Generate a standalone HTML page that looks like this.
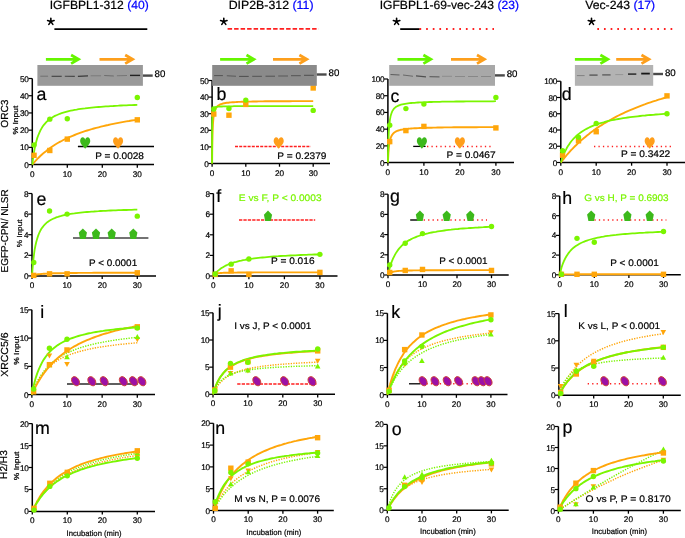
<!DOCTYPE html>
<html><head><meta charset="utf-8"><style>
html,body{margin:0;padding:0;background:#fff;width:685px;height:538px;overflow:hidden}
svg{display:block;font-family:"Liberation Sans", sans-serif;will-change:transform}
</style></head><body>
<svg width="685" height="538" viewBox="0 0 685 538" text-rendering="geometricPrecision" font-family='"Liberation Sans", sans-serif'>
<rect width="685" height="538" fill="#fff"/>
<text x="49.70" y="9.0" font-size="11.9" textLength="99.00" lengthAdjust="spacingAndGlyphs" fill="#000" stroke="#000" stroke-width="0.2">IGFBPL1-312 <tspan fill="#0000ff" stroke="#0000ff">(40)</tspan></text>
<text x="228.70" y="9.0" font-size="11.9" textLength="84.80" lengthAdjust="spacingAndGlyphs" fill="#000" stroke="#000" stroke-width="0.2">DIP2B-312 <tspan fill="#0000ff" stroke="#0000ff">(11)</tspan></text>
<text x="379.70" y="9.0" font-size="11.9" textLength="139.30" lengthAdjust="spacingAndGlyphs" fill="#000" stroke="#000" stroke-width="0.2">IGFBPL1-69-vec-243 <tspan fill="#0000ff" stroke="#0000ff">(23)</tspan></text>
<text x="585.20" y="9.0" font-size="11.9" textLength="70.00" lengthAdjust="spacingAndGlyphs" fill="#000" stroke="#000" stroke-width="0.2">Vec-243 <tspan fill="#0000ff" stroke="#0000ff">(17)</tspan></text>
<path d="M50.85,21.60 L50.85,18.20 M50.85,21.60 L54.08,20.55 M50.85,21.60 L52.85,24.35 M50.85,21.60 L48.85,24.35 M50.85,21.60 L47.62,20.55 " stroke="#000" stroke-width="1.6" stroke-linecap="round" fill="none"/>
<circle cx="50.85" cy="21.60" r="1.3" fill="#000"/>
<path d="M223.80,21.60 L223.80,18.20 M223.80,21.60 L227.03,20.55 M223.80,21.60 L225.80,24.35 M223.80,21.60 L221.80,24.35 M223.80,21.60 L220.57,20.55 " stroke="#000" stroke-width="1.6" stroke-linecap="round" fill="none"/>
<circle cx="223.80" cy="21.60" r="1.3" fill="#000"/>
<path d="M396.60,21.60 L396.60,18.20 M396.60,21.60 L399.83,20.55 M396.60,21.60 L398.60,24.35 M396.60,21.60 L394.60,24.35 M396.60,21.60 L393.37,20.55 " stroke="#000" stroke-width="1.6" stroke-linecap="round" fill="none"/>
<circle cx="396.60" cy="21.60" r="1.3" fill="#000"/>
<path d="M591.50,21.60 L591.50,18.20 M591.50,21.60 L594.73,20.55 M591.50,21.60 L593.50,24.35 M591.50,21.60 L589.50,24.35 M591.50,21.60 L588.27,20.55 " stroke="#000" stroke-width="1.6" stroke-linecap="round" fill="none"/>
<circle cx="591.50" cy="21.60" r="1.3" fill="#000"/>
<line x1="54.40" y1="29.20" x2="147.30" y2="29.20" stroke="#000" stroke-width="1.8" />
<line x1="227.60" y1="28.90" x2="318.70" y2="28.90" stroke="#ff2020" stroke-width="1.75" stroke-dasharray="4.5 2.0"/>
<line x1="400.20" y1="29.10" x2="419.70" y2="29.10" stroke="#000" stroke-width="1.8" />
<line x1="419.50" y1="29.00" x2="494.00" y2="29.00" stroke="#ff2020" stroke-width="1.8" stroke-dasharray="1.7 4.93"/>
<line x1="597.30" y1="29.00" x2="673.00" y2="29.00" stroke="#ff2020" stroke-width="1.8" stroke-dasharray="1.7 4.96"/>
<path d="M45.90,59.30 L78.60,59.30 M71.10,55.00 L78.50,59.30 L71.10,63.60" fill="none" stroke="#66f500" stroke-width="2.8" stroke-linejoin="miter" stroke-miterlimit="10"/>
<path d="M99.50,59.30 L132.70,59.30 M125.20,55.00 L132.60,59.30 L125.20,63.60" fill="none" stroke="#fd9f1c" stroke-width="2.8" stroke-linejoin="miter" stroke-miterlimit="10"/>
<path d="M220.10,59.30 L254.00,59.30 M246.50,55.00 L253.90,59.30 L246.50,63.60" fill="none" stroke="#66f500" stroke-width="2.8" stroke-linejoin="miter" stroke-miterlimit="10"/>
<path d="M273.00,59.30 L306.90,59.30 M299.40,55.00 L306.80,59.30 L299.40,63.60" fill="none" stroke="#fd9f1c" stroke-width="2.8" stroke-linejoin="miter" stroke-miterlimit="10"/>
<path d="M397.50,59.30 L430.90,59.30 M423.40,55.00 L430.80,59.30 L423.40,63.60" fill="none" stroke="#66f500" stroke-width="2.8" stroke-linejoin="miter" stroke-miterlimit="10"/>
<path d="M451.00,59.30 L484.50,59.30 M477.00,55.00 L484.40,59.30 L477.00,63.60" fill="none" stroke="#fd9f1c" stroke-width="2.8" stroke-linejoin="miter" stroke-miterlimit="10"/>
<path d="M574.90,59.30 L607.90,59.30 M600.40,55.00 L607.80,59.30 L600.40,63.60" fill="none" stroke="#66f500" stroke-width="2.8" stroke-linejoin="miter" stroke-miterlimit="10"/>
<path d="M616.20,59.30 L649.00,59.30 M641.50,55.00 L648.90,59.30 L641.50,63.60" fill="none" stroke="#fd9f1c" stroke-width="2.8" stroke-linejoin="miter" stroke-miterlimit="10"/>
<path d="M32.30,78.50 L32.30,164.60 L154.00,164.60" fill="none" stroke="#000" stroke-width="1.5"/>
<line x1="28.50" y1="164.60" x2="32.30" y2="164.60" stroke="#000" stroke-width="1.2" />
<text x="28.60" y="167.60" font-size="8.2" text-anchor="end" fill="#000" stroke="#000" stroke-width="0.2" letter-spacing="-0.3">0</text>
<line x1="28.50" y1="147.38" x2="32.30" y2="147.38" stroke="#000" stroke-width="1.2" />
<text x="28.60" y="150.38" font-size="8.2" text-anchor="end" fill="#000" stroke="#000" stroke-width="0.2" letter-spacing="-0.3">10</text>
<line x1="28.50" y1="130.16" x2="32.30" y2="130.16" stroke="#000" stroke-width="1.2" />
<text x="28.60" y="133.16" font-size="8.2" text-anchor="end" fill="#000" stroke="#000" stroke-width="0.2" letter-spacing="-0.3">20</text>
<line x1="28.50" y1="112.94" x2="32.30" y2="112.94" stroke="#000" stroke-width="1.2" />
<text x="28.60" y="115.94" font-size="8.2" text-anchor="end" fill="#000" stroke="#000" stroke-width="0.2" letter-spacing="-0.3">30</text>
<line x1="28.50" y1="95.72" x2="32.30" y2="95.72" stroke="#000" stroke-width="1.2" />
<text x="28.60" y="98.72" font-size="8.2" text-anchor="end" fill="#000" stroke="#000" stroke-width="0.2" letter-spacing="-0.3">40</text>
<line x1="28.50" y1="78.50" x2="32.30" y2="78.50" stroke="#000" stroke-width="1.2" />
<text x="28.60" y="81.50" font-size="8.2" text-anchor="end" fill="#000" stroke="#000" stroke-width="0.2" letter-spacing="-0.3">50</text>
<line x1="32.30" y1="164.60" x2="32.30" y2="167.80" stroke="#000" stroke-width="1.3" />
<text x="32.30" y="176.60" font-size="8.2" text-anchor="middle" fill="#000" stroke="#000" stroke-width="0.2" >0</text>
<line x1="67.30" y1="164.60" x2="67.30" y2="167.80" stroke="#000" stroke-width="1.3" />
<text x="67.30" y="176.60" font-size="8.2" text-anchor="middle" fill="#000" stroke="#000" stroke-width="0.2" >10</text>
<line x1="102.30" y1="164.60" x2="102.30" y2="167.80" stroke="#000" stroke-width="1.3" />
<text x="102.30" y="176.60" font-size="8.2" text-anchor="middle" fill="#000" stroke="#000" stroke-width="0.2" >20</text>
<line x1="137.30" y1="164.60" x2="137.30" y2="167.80" stroke="#000" stroke-width="1.3" />
<text x="137.30" y="176.60" font-size="8.2" text-anchor="middle" fill="#000" stroke="#000" stroke-width="0.2" >30</text>
<text x="36.40" y="100.25" font-size="17.8" text-anchor="start" fill="#000" stroke="#000" stroke-width="0.2" >a</text>
<path d="M32.3,164.6 L32.5,164.4 L32.8,164.0 L33.2,163.5 L33.7,162.9 L34.3,162.3 L34.9,161.5 L35.7,160.7 L36.5,159.8 L37.3,158.9 L38.3,158.0 L39.3,157.0 L40.3,156.0 L41.4,155.0 L42.5,154.0 L43.7,152.9 L45.0,151.9 L46.3,150.9 L47.6,149.8 L49.0,148.8 L50.4,147.8 L51.9,146.8 L53.4,145.8 L54.9,144.8 L56.5,143.8 L58.2,142.8 L59.8,141.9 L61.6,141.0 L63.3,140.0 L65.1,139.2 L66.9,138.3 L68.8,137.4 L70.7,136.6 L72.6,135.8 L74.6,135.0 L76.6,134.2 L78.7,133.4 L80.7,132.7 L82.9,131.9 L85.0,131.2 L87.2,130.5 L89.4,129.8 L91.6,129.2 L93.9,128.5 L96.2,127.9 L98.6,127.3 L100.9,126.7 L103.3,126.1 L105.8,125.5 L108.2,125.0 L110.7,124.4 L113.3,123.9 L115.8,123.4 L118.4,122.9 L121.0,122.4 L123.7,121.9 L126.3,121.4 L129.0,121.0 L131.8,120.5 L134.5,120.1 L137.3,119.7" fill="none" stroke="#ffa60a" stroke-width="1.9" />
<path d="M32.3,164.6 L32.5,163.3 L32.8,160.7 L33.2,157.6 L33.7,154.1 L34.3,150.6 L34.9,147.2 L35.7,143.9 L36.5,140.8 L37.3,137.9 L38.3,135.3 L39.3,132.8 L40.3,130.6 L41.4,128.6 L42.5,126.8 L43.7,125.1 L45.0,123.6 L46.3,122.2 L47.6,120.9 L49.0,119.7 L50.4,118.7 L51.9,117.7 L53.4,116.8 L54.9,115.9 L56.5,115.2 L58.2,114.5 L59.8,113.8 L61.6,113.2 L63.3,112.6 L65.1,112.1 L66.9,111.6 L68.8,111.1 L70.7,110.7 L72.6,110.3 L74.6,109.9 L76.6,109.6 L78.7,109.2 L80.7,108.9 L82.9,108.6 L85.0,108.4 L87.2,108.1 L89.4,107.8 L91.6,107.6 L93.9,107.4 L96.2,107.2 L98.6,107.0 L100.9,106.8 L103.3,106.6 L105.8,106.4 L108.2,106.3 L110.7,106.1 L113.3,106.0 L115.8,105.8 L118.4,105.7 L121.0,105.5 L123.7,105.4 L126.3,105.3 L129.0,105.2 L131.8,105.1 L134.5,105.0 L137.3,104.9" fill="none" stroke="#7af500" stroke-width="1.8" />
<rect x="31.35" y="152.60" width="5.4" height="5.4" fill="#ffa60a"/>
<rect x="47.10" y="147.78" width="5.4" height="5.4" fill="#ffa60a"/>
<rect x="64.60" y="136.41" width="5.4" height="5.4" fill="#ffa60a"/>
<rect x="134.60" y="117.13" width="5.4" height="5.4" fill="#ffa60a"/>
<circle cx="34.05" cy="144.97" r="2.7" fill="#7af500"/>
<circle cx="49.80" cy="119.14" r="2.7" fill="#7af500"/>
<circle cx="67.30" cy="118.79" r="2.7" fill="#7af500"/>
<circle cx="137.30" cy="97.44" r="2.7" fill="#7af500"/>
<path d="M212.10,80.50 L212.10,163.50 L330.00,163.50" fill="none" stroke="#000" stroke-width="1.5"/>
<line x1="208.30" y1="163.50" x2="212.10" y2="163.50" stroke="#000" stroke-width="1.2" />
<text x="208.40" y="166.50" font-size="8.2" text-anchor="end" fill="#000" stroke="#000" stroke-width="0.2" letter-spacing="-0.3">0</text>
<line x1="208.30" y1="146.90" x2="212.10" y2="146.90" stroke="#000" stroke-width="1.2" />
<text x="208.40" y="149.90" font-size="8.2" text-anchor="end" fill="#000" stroke="#000" stroke-width="0.2" letter-spacing="-0.3">10</text>
<line x1="208.30" y1="130.30" x2="212.10" y2="130.30" stroke="#000" stroke-width="1.2" />
<text x="208.40" y="133.30" font-size="8.2" text-anchor="end" fill="#000" stroke="#000" stroke-width="0.2" letter-spacing="-0.3">20</text>
<line x1="208.30" y1="113.70" x2="212.10" y2="113.70" stroke="#000" stroke-width="1.2" />
<text x="208.40" y="116.70" font-size="8.2" text-anchor="end" fill="#000" stroke="#000" stroke-width="0.2" letter-spacing="-0.3">30</text>
<line x1="208.30" y1="97.10" x2="212.10" y2="97.10" stroke="#000" stroke-width="1.2" />
<text x="208.40" y="100.10" font-size="8.2" text-anchor="end" fill="#000" stroke="#000" stroke-width="0.2" letter-spacing="-0.3">40</text>
<line x1="208.30" y1="80.50" x2="212.10" y2="80.50" stroke="#000" stroke-width="1.2" />
<text x="208.40" y="83.50" font-size="8.2" text-anchor="end" fill="#000" stroke="#000" stroke-width="0.2" letter-spacing="-0.3">50</text>
<line x1="212.10" y1="163.50" x2="212.10" y2="166.70" stroke="#000" stroke-width="1.3" />
<text x="212.10" y="175.50" font-size="8.2" text-anchor="middle" fill="#000" stroke="#000" stroke-width="0.2" >0</text>
<line x1="245.80" y1="163.50" x2="245.80" y2="166.70" stroke="#000" stroke-width="1.3" />
<text x="245.80" y="175.50" font-size="8.2" text-anchor="middle" fill="#000" stroke="#000" stroke-width="0.2" >10</text>
<line x1="279.50" y1="163.50" x2="279.50" y2="166.70" stroke="#000" stroke-width="1.3" />
<text x="279.50" y="175.50" font-size="8.2" text-anchor="middle" fill="#000" stroke="#000" stroke-width="0.2" >20</text>
<line x1="313.20" y1="163.50" x2="313.20" y2="166.70" stroke="#000" stroke-width="1.3" />
<text x="313.20" y="175.50" font-size="8.2" text-anchor="middle" fill="#000" stroke="#000" stroke-width="0.2" >30</text>
<text x="216.45" y="99.50" font-size="17.8" text-anchor="start" fill="#000" stroke="#000" stroke-width="0.2" >b</text>
<path d="M212.1,163.5 L212.2,149.6 L212.5,134.4 L212.9,124.4 L213.4,118.1 L214.0,114.0 L214.6,111.2 L215.3,109.2 L216.1,107.8 L217.0,106.7 L217.9,105.8 L218.8,105.2 L219.8,104.6 L220.9,104.2 L222.0,103.8 L223.1,103.5 L224.3,103.2 L225.5,103.0 L226.8,102.8 L228.2,102.7 L229.5,102.5 L230.9,102.4 L232.4,102.3 L233.9,102.2 L235.4,102.1 L237.0,102.0 L238.6,101.9 L240.3,101.9 L242.0,101.8 L243.7,101.7 L245.5,101.7 L247.2,101.6 L249.1,101.6 L250.9,101.6 L252.8,101.5 L254.8,101.5 L256.7,101.5 L258.7,101.4 L260.8,101.4 L262.8,101.4 L264.9,101.3 L267.1,101.3 L269.2,101.3 L271.4,101.3 L273.7,101.3 L275.9,101.2 L278.2,101.2 L280.5,101.2 L282.8,101.2 L285.2,101.2 L287.6,101.2 L290.1,101.2 L292.5,101.1 L295.0,101.1 L297.5,101.1 L300.1,101.1 L302.6,101.1 L305.2,101.1 L307.9,101.1 L310.5,101.1 L313.2,101.1" fill="none" stroke="#ffa60a" stroke-width="1.9" />
<path d="M212.1,163.5 L212.2,124.3 L212.5,113.7 L212.9,110.3 L213.4,108.8 L214.0,108.0 L214.6,107.5 L215.3,107.2 L216.1,107.0 L217.0,106.8 L217.9,106.7 L218.8,106.6 L219.8,106.6 L220.9,106.5 L222.0,106.5 L223.1,106.4 L224.3,106.4 L225.5,106.4 L226.8,106.3 L228.2,106.3 L229.5,106.3 L230.9,106.3 L232.4,106.3 L233.9,106.2 L235.4,106.2 L237.0,106.2 L238.6,106.2 L240.3,106.2 L242.0,106.2 L243.7,106.2 L245.5,106.2 L247.2,106.2 L249.1,106.2 L250.9,106.2 L252.8,106.2 L254.8,106.2 L256.7,106.2 L258.7,106.1 L260.8,106.1 L262.8,106.1 L264.9,106.1 L267.1,106.1 L269.2,106.1 L271.4,106.1 L273.7,106.1 L275.9,106.1 L278.2,106.1 L280.5,106.1 L282.8,106.1 L285.2,106.1 L287.6,106.1 L290.1,106.1 L292.5,106.1 L295.0,106.1 L297.5,106.1 L300.1,106.1 L302.6,106.1 L305.2,106.1 L307.9,106.1 L310.5,106.1 L313.2,106.1" fill="none" stroke="#7af500" stroke-width="1.8" />
<rect x="211.09" y="111.33" width="5.4" height="5.4" fill="#ffa60a"/>
<rect x="226.25" y="112.49" width="5.4" height="5.4" fill="#ffa60a"/>
<rect x="243.10" y="101.70" width="5.4" height="5.4" fill="#ffa60a"/>
<rect x="310.50" y="85.27" width="5.4" height="5.4" fill="#ffa60a"/>
<circle cx="213.78" cy="109.05" r="2.7" fill="#7af500"/>
<circle cx="228.95" cy="108.55" r="2.7" fill="#7af500"/>
<circle cx="245.80" cy="100.09" r="2.7" fill="#7af500"/>
<circle cx="313.20" cy="110.38" r="2.7" fill="#7af500"/>
<path d="M387.90,79.00 L387.90,162.60 L514.00,162.60" fill="none" stroke="#000" stroke-width="1.5"/>
<line x1="384.10" y1="162.60" x2="387.90" y2="162.60" stroke="#000" stroke-width="1.2" />
<text x="384.20" y="165.60" font-size="8.2" text-anchor="end" fill="#000" stroke="#000" stroke-width="0.2" letter-spacing="-0.3">0</text>
<line x1="384.10" y1="145.88" x2="387.90" y2="145.88" stroke="#000" stroke-width="1.2" />
<text x="384.20" y="148.88" font-size="8.2" text-anchor="end" fill="#000" stroke="#000" stroke-width="0.2" letter-spacing="-0.3">20</text>
<line x1="384.10" y1="129.16" x2="387.90" y2="129.16" stroke="#000" stroke-width="1.2" />
<text x="384.20" y="132.16" font-size="8.2" text-anchor="end" fill="#000" stroke="#000" stroke-width="0.2" letter-spacing="-0.3">40</text>
<line x1="384.10" y1="112.44" x2="387.90" y2="112.44" stroke="#000" stroke-width="1.2" />
<text x="384.20" y="115.44" font-size="8.2" text-anchor="end" fill="#000" stroke="#000" stroke-width="0.2" letter-spacing="-0.3">60</text>
<line x1="384.10" y1="95.72" x2="387.90" y2="95.72" stroke="#000" stroke-width="1.2" />
<text x="384.20" y="98.72" font-size="8.2" text-anchor="end" fill="#000" stroke="#000" stroke-width="0.2" letter-spacing="-0.3">80</text>
<line x1="384.10" y1="79.00" x2="387.90" y2="79.00" stroke="#000" stroke-width="1.2" />
<text x="384.20" y="82.00" font-size="8.2" text-anchor="end" fill="#000" stroke="#000" stroke-width="0.2" letter-spacing="-0.3">100</text>
<line x1="387.90" y1="162.60" x2="387.90" y2="165.80" stroke="#000" stroke-width="1.3" />
<text x="387.90" y="174.60" font-size="8.2" text-anchor="middle" fill="#000" stroke="#000" stroke-width="0.2" >0</text>
<line x1="423.90" y1="162.60" x2="423.90" y2="165.80" stroke="#000" stroke-width="1.3" />
<text x="423.90" y="174.60" font-size="8.2" text-anchor="middle" fill="#000" stroke="#000" stroke-width="0.2" >10</text>
<line x1="459.90" y1="162.60" x2="459.90" y2="165.80" stroke="#000" stroke-width="1.3" />
<text x="459.90" y="174.60" font-size="8.2" text-anchor="middle" fill="#000" stroke="#000" stroke-width="0.2" >20</text>
<line x1="495.90" y1="162.60" x2="495.90" y2="165.80" stroke="#000" stroke-width="1.3" />
<text x="495.90" y="174.60" font-size="8.2" text-anchor="middle" fill="#000" stroke="#000" stroke-width="0.2" >30</text>
<text x="390.55" y="101.80" font-size="17.8" text-anchor="start" fill="#000" stroke="#000" stroke-width="0.2" >c</text>
<path d="M387.9,162.6 L388.1,158.7 L388.4,152.9 L388.8,147.7 L389.3,143.6 L389.9,140.4 L390.6,138.1 L391.4,136.2 L392.2,134.8 L393.1,133.7 L394.0,132.8 L395.1,132.0 L396.1,131.4 L397.2,130.9 L398.4,130.5 L399.7,130.1 L400.9,129.8 L402.3,129.6 L403.6,129.3 L405.1,129.1 L406.5,128.9 L408.0,128.8 L409.6,128.6 L411.2,128.5 L412.8,128.4 L414.5,128.3 L416.2,128.2 L418.0,128.1 L419.8,128.0 L421.6,127.9 L423.5,127.9 L425.4,127.8 L427.4,127.8 L429.4,127.7 L431.4,127.7 L433.5,127.6 L435.6,127.6 L437.7,127.5 L439.9,127.5 L442.1,127.5 L444.4,127.4 L446.6,127.4 L448.9,127.4 L451.3,127.4 L453.7,127.3 L456.1,127.3 L458.5,127.3 L461.0,127.3 L463.5,127.2 L466.0,127.2 L468.6,127.2 L471.2,127.2 L473.8,127.2 L476.5,127.2 L479.1,127.1 L481.9,127.1 L484.6,127.1 L487.4,127.1 L490.2,127.1 L493.0,127.1 L495.9,127.1" fill="none" stroke="#ffa60a" stroke-width="1.9" />
<path d="M387.9,162.6 L388.1,153.5 L388.4,141.4 L388.8,131.8 L389.3,124.8 L389.9,119.8 L390.6,116.1 L391.4,113.5 L392.2,111.4 L393.1,109.9 L394.0,108.6 L395.1,107.6 L396.1,106.8 L397.2,106.2 L398.4,105.6 L399.7,105.1 L400.9,104.7 L402.3,104.4 L403.6,104.1 L405.1,103.8 L406.5,103.6 L408.0,103.4 L409.6,103.2 L411.2,103.0 L412.8,102.9 L414.5,102.8 L416.2,102.6 L418.0,102.5 L419.8,102.4 L421.6,102.3 L423.5,102.3 L425.4,102.2 L427.4,102.1 L429.4,102.0 L431.4,102.0 L433.5,101.9 L435.6,101.9 L437.7,101.8 L439.9,101.8 L442.1,101.7 L444.4,101.7 L446.6,101.7 L448.9,101.6 L451.3,101.6 L453.7,101.6 L456.1,101.5 L458.5,101.5 L461.0,101.5 L463.5,101.5 L466.0,101.4 L468.6,101.4 L471.2,101.4 L473.8,101.4 L476.5,101.4 L479.1,101.3 L481.9,101.3 L484.6,101.3 L487.4,101.3 L490.2,101.3 L493.0,101.3 L495.9,101.2" fill="none" stroke="#7af500" stroke-width="1.8" />
<rect x="387.00" y="138.92" width="5.4" height="5.4" fill="#ffa60a"/>
<rect x="403.20" y="127.88" width="5.4" height="5.4" fill="#ffa60a"/>
<rect x="421.20" y="123.70" width="5.4" height="5.4" fill="#ffa60a"/>
<rect x="493.20" y="125.21" width="5.4" height="5.4" fill="#ffa60a"/>
<circle cx="389.70" cy="125.23" r="2.7" fill="#7af500"/>
<circle cx="405.90" cy="108.59" r="2.7" fill="#7af500"/>
<circle cx="423.90" cy="104.08" r="2.7" fill="#7af500"/>
<circle cx="495.90" cy="97.39" r="2.7" fill="#7af500"/>
<path d="M560.80,81.25 L560.80,162.50 L685.00,162.50" fill="none" stroke="#000" stroke-width="1.5"/>
<line x1="557.00" y1="162.50" x2="560.80" y2="162.50" stroke="#000" stroke-width="1.2" />
<text x="557.10" y="165.50" font-size="8.2" text-anchor="end" fill="#000" stroke="#000" stroke-width="0.2" letter-spacing="-0.3">0</text>
<line x1="557.00" y1="146.25" x2="560.80" y2="146.25" stroke="#000" stroke-width="1.2" />
<text x="557.10" y="149.25" font-size="8.2" text-anchor="end" fill="#000" stroke="#000" stroke-width="0.2" letter-spacing="-0.3">20</text>
<line x1="557.00" y1="130.00" x2="560.80" y2="130.00" stroke="#000" stroke-width="1.2" />
<text x="557.10" y="133.00" font-size="8.2" text-anchor="end" fill="#000" stroke="#000" stroke-width="0.2" letter-spacing="-0.3">40</text>
<line x1="557.00" y1="113.75" x2="560.80" y2="113.75" stroke="#000" stroke-width="1.2" />
<text x="557.10" y="116.75" font-size="8.2" text-anchor="end" fill="#000" stroke="#000" stroke-width="0.2" letter-spacing="-0.3">60</text>
<line x1="557.00" y1="97.50" x2="560.80" y2="97.50" stroke="#000" stroke-width="1.2" />
<text x="557.10" y="100.50" font-size="8.2" text-anchor="end" fill="#000" stroke="#000" stroke-width="0.2" letter-spacing="-0.3">80</text>
<line x1="557.00" y1="81.25" x2="560.80" y2="81.25" stroke="#000" stroke-width="1.2" />
<text x="557.10" y="84.25" font-size="8.2" text-anchor="end" fill="#000" stroke="#000" stroke-width="0.2" letter-spacing="-0.3">100</text>
<line x1="560.80" y1="162.50" x2="560.80" y2="165.70" stroke="#000" stroke-width="1.3" />
<text x="560.80" y="174.50" font-size="8.2" text-anchor="middle" fill="#000" stroke="#000" stroke-width="0.2" >0</text>
<line x1="596.20" y1="162.50" x2="596.20" y2="165.70" stroke="#000" stroke-width="1.3" />
<text x="596.20" y="174.50" font-size="8.2" text-anchor="middle" fill="#000" stroke="#000" stroke-width="0.2" >10</text>
<line x1="631.60" y1="162.50" x2="631.60" y2="165.70" stroke="#000" stroke-width="1.3" />
<text x="631.60" y="174.50" font-size="8.2" text-anchor="middle" fill="#000" stroke="#000" stroke-width="0.2" >20</text>
<line x1="667.00" y1="162.50" x2="667.00" y2="165.70" stroke="#000" stroke-width="1.3" />
<text x="667.00" y="174.50" font-size="8.2" text-anchor="middle" fill="#000" stroke="#000" stroke-width="0.2" >30</text>
<text x="561.80" y="99.50" font-size="17.8" text-anchor="start" fill="#000" stroke="#000" stroke-width="0.2" >d</text>
<path d="M560.8,162.5 L561.0,162.3 L561.3,161.9 L561.7,161.3 L562.2,160.7 L562.8,159.9 L563.5,159.1 L564.2,158.1 L565.0,157.1 L565.9,156.1 L566.8,155.0 L567.8,153.8 L568.9,152.7 L570.0,151.4 L571.1,150.2 L572.4,148.9 L573.6,147.6 L574.9,146.3 L576.3,145.0 L577.7,143.6 L579.1,142.3 L580.6,140.9 L582.1,139.6 L583.7,138.2 L585.3,136.9 L587.0,135.5 L588.7,134.2 L590.4,132.8 L592.2,131.5 L594.0,130.2 L595.8,128.9 L597.7,127.6 L599.6,126.3 L601.6,125.1 L603.6,123.8 L605.6,122.6 L607.7,121.4 L609.8,120.2 L611.9,119.0 L614.1,117.8 L616.3,116.6 L618.5,115.5 L620.8,114.4 L623.1,113.3 L625.5,112.2 L627.8,111.1 L630.2,110.1 L632.7,109.1 L635.1,108.1 L637.6,107.1 L640.1,106.1 L642.7,105.1 L645.3,104.2 L647.9,103.2 L650.5,102.3 L653.2,101.4 L655.9,100.6 L658.6,99.7 L661.4,98.9 L664.2,98.0 L667.0,97.2" fill="none" stroke="#ffa60a" stroke-width="1.9" />
<path d="M560.8,162.5 L561.0,162.0 L561.3,161.1 L561.7,159.8 L562.2,158.3 L562.8,156.7 L563.5,155.1 L564.2,153.3 L565.0,151.5 L565.9,149.8 L566.8,148.0 L567.8,146.3 L568.9,144.7 L570.0,143.1 L571.1,141.5 L572.4,140.0 L573.6,138.6 L574.9,137.3 L576.3,136.0 L577.7,134.7 L579.1,133.6 L580.6,132.5 L582.1,131.4 L583.7,130.4 L585.3,129.5 L587.0,128.6 L588.7,127.7 L590.4,126.9 L592.2,126.1 L594.0,125.4 L595.8,124.7 L597.7,124.1 L599.6,123.4 L601.6,122.8 L603.6,122.3 L605.6,121.7 L607.7,121.2 L609.8,120.7 L611.9,120.2 L614.1,119.8 L616.3,119.4 L618.5,119.0 L620.8,118.6 L623.1,118.2 L625.5,117.8 L627.8,117.5 L630.2,117.2 L632.7,116.9 L635.1,116.6 L637.6,116.3 L640.1,116.0 L642.7,115.7 L645.3,115.5 L647.9,115.2 L650.5,115.0 L653.2,114.8 L655.9,114.5 L658.6,114.3 L661.4,114.1 L664.2,113.9 L667.0,113.8" fill="none" stroke="#7af500" stroke-width="1.8" />
<rect x="559.87" y="152.49" width="5.4" height="5.4" fill="#ffa60a"/>
<rect x="575.80" y="138.11" width="5.4" height="5.4" fill="#ffa60a"/>
<rect x="593.50" y="129.01" width="5.4" height="5.4" fill="#ffa60a"/>
<rect x="664.30" y="93.17" width="5.4" height="5.4" fill="#ffa60a"/>
<circle cx="562.57" cy="150.72" r="2.7" fill="#7af500"/>
<circle cx="578.50" cy="137.15" r="2.7" fill="#7af500"/>
<circle cx="596.20" cy="123.50" r="2.7" fill="#7af500"/>
<circle cx="667.00" cy="113.75" r="2.7" fill="#7af500"/>
<path d="M32.00,193.50 L32.00,275.90 L156.00,275.90" fill="none" stroke="#000" stroke-width="1.5"/>
<line x1="28.20" y1="275.90" x2="32.00" y2="275.90" stroke="#000" stroke-width="1.2" />
<text x="28.30" y="278.90" font-size="8.2" text-anchor="end" fill="#000" stroke="#000" stroke-width="0.2" letter-spacing="-0.3">0</text>
<line x1="28.20" y1="255.30" x2="32.00" y2="255.30" stroke="#000" stroke-width="1.2" />
<text x="28.30" y="258.30" font-size="8.2" text-anchor="end" fill="#000" stroke="#000" stroke-width="0.2" letter-spacing="-0.3">2</text>
<line x1="28.20" y1="234.70" x2="32.00" y2="234.70" stroke="#000" stroke-width="1.2" />
<text x="28.30" y="237.70" font-size="8.2" text-anchor="end" fill="#000" stroke="#000" stroke-width="0.2" letter-spacing="-0.3">4</text>
<line x1="28.20" y1="214.10" x2="32.00" y2="214.10" stroke="#000" stroke-width="1.2" />
<text x="28.30" y="217.10" font-size="8.2" text-anchor="end" fill="#000" stroke="#000" stroke-width="0.2" letter-spacing="-0.3">6</text>
<line x1="28.20" y1="193.50" x2="32.00" y2="193.50" stroke="#000" stroke-width="1.2" />
<text x="28.30" y="196.50" font-size="8.2" text-anchor="end" fill="#000" stroke="#000" stroke-width="0.2" letter-spacing="-0.3">8</text>
<line x1="32.00" y1="275.90" x2="32.00" y2="279.10" stroke="#000" stroke-width="1.3" />
<text x="32.00" y="287.90" font-size="8.2" text-anchor="middle" fill="#000" stroke="#000" stroke-width="0.2" >0</text>
<line x1="67.10" y1="275.90" x2="67.10" y2="279.10" stroke="#000" stroke-width="1.3" />
<text x="67.10" y="287.90" font-size="8.2" text-anchor="middle" fill="#000" stroke="#000" stroke-width="0.2" >10</text>
<line x1="102.20" y1="275.90" x2="102.20" y2="279.10" stroke="#000" stroke-width="1.3" />
<text x="102.20" y="287.90" font-size="8.2" text-anchor="middle" fill="#000" stroke="#000" stroke-width="0.2" >20</text>
<line x1="137.30" y1="275.90" x2="137.30" y2="279.10" stroke="#000" stroke-width="1.3" />
<text x="137.30" y="287.90" font-size="8.2" text-anchor="middle" fill="#000" stroke="#000" stroke-width="0.2" >30</text>
<text x="36.50" y="204.50" font-size="17.8" text-anchor="start" fill="#000" stroke="#000" stroke-width="0.2" >e</text>
<path d="M32.0,275.9 L32.2,275.8 L32.5,275.7 L32.9,275.5 L33.4,275.3 L34.0,275.2 L34.6,275.0 L35.4,274.8 L36.2,274.6 L37.1,274.5 L38.0,274.3 L39.0,274.2 L40.0,274.1 L41.1,274.0 L42.3,273.9 L43.5,273.8 L44.7,273.7 L46.0,273.6 L47.3,273.6 L48.7,273.5 L50.2,273.4 L51.6,273.4 L53.1,273.3 L54.7,273.3 L56.3,273.3 L57.9,273.2 L59.6,273.2 L61.3,273.2 L63.1,273.1 L64.9,273.1 L66.7,273.1 L68.6,273.0 L70.5,273.0 L72.5,273.0 L74.4,273.0 L76.5,273.0 L78.5,272.9 L80.6,272.9 L82.7,272.9 L84.9,272.9 L87.0,272.9 L89.3,272.9 L91.5,272.9 L93.8,272.8 L96.1,272.8 L98.5,272.8 L100.8,272.8 L103.2,272.8 L105.7,272.8 L108.2,272.8 L110.7,272.8 L113.2,272.8 L115.8,272.8 L118.3,272.8 L121.0,272.7 L123.6,272.7 L126.3,272.7 L129.0,272.7 L131.7,272.7 L134.5,272.7 L137.3,272.7" fill="none" stroke="#ffa60a" stroke-width="1.9" />
<path d="M32.0,275.9 L32.2,273.6 L32.5,269.4 L32.9,264.5 L33.4,259.4 L34.0,254.5 L34.6,249.9 L35.4,245.8 L36.2,242.2 L37.1,238.9 L38.0,236.1 L39.0,233.5 L40.0,231.3 L41.1,229.3 L42.3,227.6 L43.5,226.0 L44.7,224.6 L46.0,223.4 L47.3,222.2 L48.7,221.2 L50.2,220.3 L51.6,219.5 L53.1,218.7 L54.7,218.1 L56.3,217.4 L57.9,216.9 L59.6,216.3 L61.3,215.9 L63.1,215.4 L64.9,215.0 L66.7,214.6 L68.6,214.3 L70.5,213.9 L72.5,213.6 L74.4,213.4 L76.5,213.1 L78.5,212.8 L80.6,212.6 L82.7,212.4 L84.9,212.2 L87.0,212.0 L89.3,211.8 L91.5,211.6 L93.8,211.5 L96.1,211.3 L98.5,211.2 L100.8,211.0 L103.2,210.9 L105.7,210.8 L108.2,210.6 L110.7,210.5 L113.2,210.4 L115.8,210.3 L118.3,210.2 L121.0,210.1 L123.6,210.0 L126.3,210.0 L129.0,209.9 L131.7,209.8 L134.5,209.7 L137.3,209.7" fill="none" stroke="#7af500" stroke-width="1.8" />
<rect x="31.06" y="272.69" width="5.4" height="5.4" fill="#ffa60a"/>
<rect x="46.85" y="271.14" width="5.4" height="5.4" fill="#ffa60a"/>
<rect x="64.40" y="271.14" width="5.4" height="5.4" fill="#ffa60a"/>
<rect x="134.60" y="270.11" width="5.4" height="5.4" fill="#ffa60a"/>
<circle cx="33.76" cy="262.51" r="2.7" fill="#7af500"/>
<circle cx="49.55" cy="211.01" r="2.7" fill="#7af500"/>
<circle cx="67.10" cy="214.10" r="2.7" fill="#7af500"/>
<circle cx="137.30" cy="216.16" r="2.7" fill="#7af500"/>
<path d="M213.40,193.60 L213.40,276.00 L337.50,276.00" fill="none" stroke="#000" stroke-width="1.5"/>
<line x1="209.60" y1="276.00" x2="213.40" y2="276.00" stroke="#000" stroke-width="1.2" />
<text x="209.70" y="279.00" font-size="8.2" text-anchor="end" fill="#000" stroke="#000" stroke-width="0.2" letter-spacing="-0.3">0</text>
<line x1="209.60" y1="255.40" x2="213.40" y2="255.40" stroke="#000" stroke-width="1.2" />
<text x="209.70" y="258.40" font-size="8.2" text-anchor="end" fill="#000" stroke="#000" stroke-width="0.2" letter-spacing="-0.3">2</text>
<line x1="209.60" y1="234.80" x2="213.40" y2="234.80" stroke="#000" stroke-width="1.2" />
<text x="209.70" y="237.80" font-size="8.2" text-anchor="end" fill="#000" stroke="#000" stroke-width="0.2" letter-spacing="-0.3">4</text>
<line x1="209.60" y1="214.20" x2="213.40" y2="214.20" stroke="#000" stroke-width="1.2" />
<text x="209.70" y="217.20" font-size="8.2" text-anchor="end" fill="#000" stroke="#000" stroke-width="0.2" letter-spacing="-0.3">6</text>
<line x1="209.60" y1="193.60" x2="213.40" y2="193.60" stroke="#000" stroke-width="1.2" />
<text x="209.70" y="196.60" font-size="8.2" text-anchor="end" fill="#000" stroke="#000" stroke-width="0.2" letter-spacing="-0.3">8</text>
<line x1="213.40" y1="276.00" x2="213.40" y2="279.20" stroke="#000" stroke-width="1.3" />
<text x="213.40" y="288.00" font-size="8.2" text-anchor="middle" fill="#000" stroke="#000" stroke-width="0.2" >0</text>
<line x1="248.90" y1="276.00" x2="248.90" y2="279.20" stroke="#000" stroke-width="1.3" />
<text x="248.90" y="288.00" font-size="8.2" text-anchor="middle" fill="#000" stroke="#000" stroke-width="0.2" >10</text>
<line x1="284.40" y1="276.00" x2="284.40" y2="279.20" stroke="#000" stroke-width="1.3" />
<text x="284.40" y="288.00" font-size="8.2" text-anchor="middle" fill="#000" stroke="#000" stroke-width="0.2" >20</text>
<line x1="319.90" y1="276.00" x2="319.90" y2="279.20" stroke="#000" stroke-width="1.3" />
<text x="319.90" y="288.00" font-size="8.2" text-anchor="middle" fill="#000" stroke="#000" stroke-width="0.2" >30</text>
<text x="216.35" y="202.25" font-size="17.8" text-anchor="start" fill="#000" stroke="#000" stroke-width="0.2" >f</text>
<path d="M213.4,276.0 L213.6,275.7 L213.9,275.2 L214.3,274.8 L214.8,274.4 L215.4,274.0 L216.1,273.8 L216.8,273.6 L217.6,273.4 L218.5,273.2 L219.5,273.1 L220.5,273.0 L221.5,273.0 L222.6,272.9 L223.8,272.8 L225.0,272.8 L226.2,272.7 L227.6,272.7 L228.9,272.7 L230.3,272.6 L231.8,272.6 L233.3,272.6 L234.8,272.6 L236.4,272.6 L238.0,272.5 L239.6,272.5 L241.3,272.5 L243.1,272.5 L244.9,272.5 L246.7,272.5 L248.5,272.5 L250.4,272.5 L252.4,272.5 L254.3,272.4 L256.3,272.4 L258.4,272.4 L260.4,272.4 L262.5,272.4 L264.7,272.4 L266.9,272.4 L269.1,272.4 L271.3,272.4 L273.6,272.4 L275.9,272.4 L278.2,272.4 L280.6,272.4 L283.0,272.4 L285.5,272.4 L287.9,272.4 L290.4,272.4 L293.0,272.4 L295.5,272.4 L298.1,272.4 L300.7,272.4 L303.4,272.4 L306.1,272.4 L308.8,272.4 L311.5,272.4 L314.3,272.4 L317.1,272.4 L319.9,272.4" fill="none" stroke="#ffa60a" stroke-width="1.9" />
<path d="M213.4,276.0 L213.6,275.8 L213.9,275.4 L214.3,274.8 L214.8,274.2 L215.4,273.4 L216.1,272.7 L216.8,271.9 L217.6,271.1 L218.5,270.4 L219.5,269.6 L220.5,268.8 L221.5,268.1 L222.6,267.4 L223.8,266.7 L225.0,266.0 L226.2,265.4 L227.6,264.8 L228.9,264.2 L230.3,263.7 L231.8,263.2 L233.3,262.7 L234.8,262.2 L236.4,261.8 L238.0,261.3 L239.6,260.9 L241.3,260.6 L243.1,260.2 L244.9,259.9 L246.7,259.5 L248.5,259.2 L250.4,258.9 L252.4,258.7 L254.3,258.4 L256.3,258.1 L258.4,257.9 L260.4,257.7 L262.5,257.5 L264.7,257.3 L266.9,257.1 L269.1,256.9 L271.3,256.7 L273.6,256.5 L275.9,256.3 L278.2,256.2 L280.6,256.0 L283.0,255.9 L285.5,255.8 L287.9,255.6 L290.4,255.5 L293.0,255.4 L295.5,255.3 L298.1,255.1 L300.7,255.0 L303.4,254.9 L306.1,254.8 L308.8,254.7 L311.5,254.6 L314.3,254.5 L317.1,254.5 L319.9,254.4" fill="none" stroke="#7af500" stroke-width="1.8" />
<rect x="212.48" y="271.75" width="5.4" height="5.4" fill="#ffa60a"/>
<rect x="228.45" y="268.15" width="5.4" height="5.4" fill="#ffa60a"/>
<rect x="246.20" y="271.75" width="5.4" height="5.4" fill="#ffa60a"/>
<rect x="317.20" y="269.69" width="5.4" height="5.4" fill="#ffa60a"/>
<circle cx="215.18" cy="273.94" r="2.7" fill="#7af500"/>
<circle cx="231.15" cy="264.15" r="2.7" fill="#7af500"/>
<circle cx="248.90" cy="259.00" r="2.7" fill="#7af500"/>
<circle cx="319.90" cy="254.37" r="2.7" fill="#7af500"/>
<path d="M388.00,194.20 L388.00,275.00 L508.70,275.00" fill="none" stroke="#000" stroke-width="1.5"/>
<line x1="384.20" y1="275.00" x2="388.00" y2="275.00" stroke="#000" stroke-width="1.2" />
<text x="384.30" y="278.00" font-size="8.2" text-anchor="end" fill="#000" stroke="#000" stroke-width="0.2" letter-spacing="-0.3">0</text>
<line x1="384.20" y1="254.80" x2="388.00" y2="254.80" stroke="#000" stroke-width="1.2" />
<text x="384.30" y="257.80" font-size="8.2" text-anchor="end" fill="#000" stroke="#000" stroke-width="0.2" letter-spacing="-0.3">2</text>
<line x1="384.20" y1="234.60" x2="388.00" y2="234.60" stroke="#000" stroke-width="1.2" />
<text x="384.30" y="237.60" font-size="8.2" text-anchor="end" fill="#000" stroke="#000" stroke-width="0.2" letter-spacing="-0.3">4</text>
<line x1="384.20" y1="214.40" x2="388.00" y2="214.40" stroke="#000" stroke-width="1.2" />
<text x="384.30" y="217.40" font-size="8.2" text-anchor="end" fill="#000" stroke="#000" stroke-width="0.2" letter-spacing="-0.3">6</text>
<line x1="384.20" y1="194.20" x2="388.00" y2="194.20" stroke="#000" stroke-width="1.2" />
<text x="384.30" y="197.20" font-size="8.2" text-anchor="end" fill="#000" stroke="#000" stroke-width="0.2" letter-spacing="-0.3">8</text>
<line x1="388.00" y1="275.00" x2="388.00" y2="278.20" stroke="#000" stroke-width="1.3" />
<text x="388.00" y="287.00" font-size="8.2" text-anchor="middle" fill="#000" stroke="#000" stroke-width="0.2" >0</text>
<line x1="422.50" y1="275.00" x2="422.50" y2="278.20" stroke="#000" stroke-width="1.3" />
<text x="422.50" y="287.00" font-size="8.2" text-anchor="middle" fill="#000" stroke="#000" stroke-width="0.2" >10</text>
<line x1="457.00" y1="275.00" x2="457.00" y2="278.20" stroke="#000" stroke-width="1.3" />
<text x="457.00" y="287.00" font-size="8.2" text-anchor="middle" fill="#000" stroke="#000" stroke-width="0.2" >20</text>
<line x1="491.50" y1="275.00" x2="491.50" y2="278.20" stroke="#000" stroke-width="1.3" />
<text x="491.50" y="287.00" font-size="8.2" text-anchor="middle" fill="#000" stroke="#000" stroke-width="0.2" >30</text>
<text x="389.95" y="202.05" font-size="17.8" text-anchor="start" fill="#000" stroke="#000" stroke-width="0.2" >g</text>
<path d="M388.0,275.0 L388.1,274.7 L388.4,274.3 L388.9,273.8 L389.4,273.3 L389.9,272.9 L390.6,272.6 L391.3,272.2 L392.1,272.0 L393.0,271.8 L393.9,271.6 L394.9,271.4 L395.9,271.3 L397.0,271.1 L398.1,271.0 L399.3,270.9 L400.5,270.9 L401.8,270.8 L403.1,270.7 L404.4,270.7 L405.8,270.6 L407.3,270.6 L408.8,270.5 L410.3,270.5 L411.9,270.5 L413.5,270.4 L415.2,270.4 L416.8,270.4 L418.6,270.4 L420.3,270.3 L422.1,270.3 L424.0,270.3 L425.9,270.3 L427.8,270.3 L429.7,270.3 L431.7,270.3 L433.7,270.2 L435.8,270.2 L437.8,270.2 L440.0,270.2 L442.1,270.2 L444.3,270.2 L446.5,270.2 L448.7,270.2 L451.0,270.2 L453.3,270.2 L455.7,270.1 L458.0,270.1 L460.4,270.1 L462.9,270.1 L465.3,270.1 L467.8,270.1 L470.3,270.1 L472.9,270.1 L475.4,270.1 L478.0,270.1 L480.7,270.1 L483.3,270.1 L486.0,270.1 L488.8,270.1 L491.5,270.1" fill="none" stroke="#ffa60a" stroke-width="1.9" />
<path d="M388.0,275.0 L388.1,274.3 L388.4,273.0 L388.9,271.3 L389.4,269.3 L389.9,267.2 L390.6,265.0 L391.3,262.9 L392.1,260.8 L393.0,258.7 L393.9,256.8 L394.9,254.9 L395.9,253.1 L397.0,251.4 L398.1,249.9 L399.3,248.4 L400.5,247.0 L401.8,245.7 L403.1,244.5 L404.4,243.4 L405.8,242.3 L407.3,241.3 L408.8,240.4 L410.3,239.6 L411.9,238.7 L413.5,238.0 L415.2,237.3 L416.8,236.6 L418.6,236.0 L420.3,235.4 L422.1,234.9 L424.0,234.3 L425.9,233.8 L427.8,233.4 L429.7,232.9 L431.7,232.5 L433.7,232.1 L435.8,231.8 L437.8,231.4 L440.0,231.1 L442.1,230.8 L444.3,230.5 L446.5,230.2 L448.7,229.9 L451.0,229.7 L453.3,229.4 L455.7,229.2 L458.0,229.0 L460.4,228.7 L462.9,228.5 L465.3,228.3 L467.8,228.2 L470.3,228.0 L472.9,227.8 L475.4,227.6 L478.0,227.5 L480.7,227.3 L483.3,227.2 L486.0,227.0 L488.8,226.9 L491.5,226.8" fill="none" stroke="#7af500" stroke-width="1.8" />
<rect x="387.03" y="269.78" width="5.4" height="5.4" fill="#ffa60a"/>
<rect x="402.55" y="267.75" width="5.4" height="5.4" fill="#ffa60a"/>
<rect x="419.80" y="266.75" width="5.4" height="5.4" fill="#ffa60a"/>
<rect x="488.80" y="267.75" width="5.4" height="5.4" fill="#ffa60a"/>
<circle cx="389.73" cy="264.90" r="2.7" fill="#7af500"/>
<circle cx="405.25" cy="243.19" r="2.7" fill="#7af500"/>
<circle cx="422.50" cy="233.59" r="2.7" fill="#7af500"/>
<circle cx="491.50" cy="226.52" r="2.7" fill="#7af500"/>
<path d="M559.70,196.00 L559.70,274.80 L680.80,274.80" fill="none" stroke="#000" stroke-width="1.5"/>
<line x1="555.90" y1="274.80" x2="559.70" y2="274.80" stroke="#000" stroke-width="1.2" />
<text x="556.00" y="277.80" font-size="8.2" text-anchor="end" fill="#000" stroke="#000" stroke-width="0.2" letter-spacing="-0.3">0</text>
<line x1="555.90" y1="255.10" x2="559.70" y2="255.10" stroke="#000" stroke-width="1.2" />
<text x="556.00" y="258.10" font-size="8.2" text-anchor="end" fill="#000" stroke="#000" stroke-width="0.2" letter-spacing="-0.3">2</text>
<line x1="555.90" y1="235.40" x2="559.70" y2="235.40" stroke="#000" stroke-width="1.2" />
<text x="556.00" y="238.40" font-size="8.2" text-anchor="end" fill="#000" stroke="#000" stroke-width="0.2" letter-spacing="-0.3">4</text>
<line x1="555.90" y1="215.70" x2="559.70" y2="215.70" stroke="#000" stroke-width="1.2" />
<text x="556.00" y="218.70" font-size="8.2" text-anchor="end" fill="#000" stroke="#000" stroke-width="0.2" letter-spacing="-0.3">6</text>
<line x1="555.90" y1="196.00" x2="559.70" y2="196.00" stroke="#000" stroke-width="1.2" />
<text x="556.00" y="199.00" font-size="8.2" text-anchor="end" fill="#000" stroke="#000" stroke-width="0.2" letter-spacing="-0.3">8</text>
<line x1="559.70" y1="274.80" x2="559.70" y2="278.00" stroke="#000" stroke-width="1.3" />
<text x="559.70" y="286.80" font-size="8.2" text-anchor="middle" fill="#000" stroke="#000" stroke-width="0.2" >0</text>
<line x1="594.30" y1="274.80" x2="594.30" y2="278.00" stroke="#000" stroke-width="1.3" />
<text x="594.30" y="286.80" font-size="8.2" text-anchor="middle" fill="#000" stroke="#000" stroke-width="0.2" >10</text>
<line x1="628.90" y1="274.80" x2="628.90" y2="278.00" stroke="#000" stroke-width="1.3" />
<text x="628.90" y="286.80" font-size="8.2" text-anchor="middle" fill="#000" stroke="#000" stroke-width="0.2" >20</text>
<line x1="663.50" y1="274.80" x2="663.50" y2="278.00" stroke="#000" stroke-width="1.3" />
<text x="663.50" y="286.80" font-size="8.2" text-anchor="middle" fill="#000" stroke="#000" stroke-width="0.2" >30</text>
<text x="562.20" y="204.25" font-size="17.8" text-anchor="start" fill="#000" stroke="#000" stroke-width="0.2" >h</text>
<path d="M559.7,274.8 L559.8,274.8 L560.1,274.7 L560.6,274.6 L561.1,274.6 L561.6,274.5 L562.3,274.5 L563.0,274.5 L563.8,274.5 L564.7,274.4 L565.6,274.4 L566.6,274.4 L567.6,274.4 L568.7,274.4 L569.8,274.4 L571.0,274.4 L572.2,274.4 L573.5,274.4 L574.8,274.4 L576.2,274.4 L577.6,274.4 L579.1,274.3 L580.5,274.3 L582.1,274.3 L583.7,274.3 L585.3,274.3 L586.9,274.3 L588.6,274.3 L590.4,274.3 L592.1,274.3 L593.9,274.3 L595.8,274.3 L597.7,274.3 L599.6,274.3 L601.5,274.3 L603.5,274.3 L605.5,274.3 L607.6,274.3 L609.7,274.3 L611.8,274.3 L614.0,274.3 L616.1,274.3 L618.4,274.3 L620.6,274.3 L622.9,274.3 L625.2,274.3 L627.6,274.3 L629.9,274.3 L632.3,274.3 L634.8,274.3 L637.2,274.3 L639.7,274.3 L642.3,274.3 L644.8,274.3 L647.4,274.3 L650.0,274.3 L652.7,274.3 L655.3,274.3 L658.0,274.3 L660.7,274.3 L663.5,274.3" fill="none" stroke="#ffa60a" stroke-width="1.9" />
<path d="M559.7,274.8 L559.8,274.1 L560.1,272.8 L560.6,271.2 L561.1,269.3 L561.6,267.3 L562.3,265.3 L563.0,263.3 L563.8,261.3 L564.7,259.5 L565.6,257.7 L566.6,256.0 L567.6,254.4 L568.7,252.9 L569.8,251.5 L571.0,250.2 L572.2,248.9 L573.5,247.8 L574.8,246.8 L576.2,245.8 L577.6,244.9 L579.1,244.0 L580.5,243.2 L582.1,242.5 L583.7,241.8 L585.3,241.2 L586.9,240.6 L588.6,240.0 L590.4,239.5 L592.1,239.0 L593.9,238.5 L595.8,238.1 L597.7,237.7 L599.6,237.3 L601.5,236.9 L603.5,236.6 L605.5,236.2 L607.6,235.9 L609.7,235.7 L611.8,235.4 L614.0,235.1 L616.1,234.9 L618.4,234.6 L620.6,234.4 L622.9,234.2 L625.2,234.0 L627.6,233.8 L629.9,233.6 L632.3,233.4 L634.8,233.3 L637.2,233.1 L639.7,232.9 L642.3,232.8 L644.8,232.7 L647.4,232.5 L650.0,232.4 L652.7,232.3 L655.3,232.1 L658.0,232.0 L660.7,231.9 L663.5,231.8" fill="none" stroke="#7af500" stroke-width="1.8" />
<rect x="558.73" y="271.61" width="5.4" height="5.4" fill="#ffa60a"/>
<rect x="574.30" y="271.61" width="5.4" height="5.4" fill="#ffa60a"/>
<rect x="591.60" y="271.61" width="5.4" height="5.4" fill="#ffa60a"/>
<rect x="660.80" y="271.61" width="5.4" height="5.4" fill="#ffa60a"/>
<circle cx="561.43" cy="274.31" r="2.7" fill="#7af500"/>
<circle cx="577.00" cy="238.36" r="2.7" fill="#7af500"/>
<circle cx="594.30" cy="242.30" r="2.7" fill="#7af500"/>
<circle cx="663.50" cy="231.46" r="2.7" fill="#7af500"/>
<path d="M31.85,309.85 L31.85,394.60 L155.00,394.60" fill="none" stroke="#000" stroke-width="1.5"/>
<line x1="28.05" y1="394.60" x2="31.85" y2="394.60" stroke="#000" stroke-width="1.2" />
<text x="28.15" y="397.60" font-size="8.2" text-anchor="end" fill="#000" stroke="#000" stroke-width="0.2" letter-spacing="-0.3">0</text>
<line x1="28.05" y1="366.35" x2="31.85" y2="366.35" stroke="#000" stroke-width="1.2" />
<text x="28.15" y="369.35" font-size="8.2" text-anchor="end" fill="#000" stroke="#000" stroke-width="0.2" letter-spacing="-0.3">5</text>
<line x1="28.05" y1="338.10" x2="31.85" y2="338.10" stroke="#000" stroke-width="1.2" />
<text x="28.15" y="341.10" font-size="8.2" text-anchor="end" fill="#000" stroke="#000" stroke-width="0.2" letter-spacing="-0.3">10</text>
<line x1="28.05" y1="309.85" x2="31.85" y2="309.85" stroke="#000" stroke-width="1.2" />
<text x="28.15" y="312.85" font-size="8.2" text-anchor="end" fill="#000" stroke="#000" stroke-width="0.2" letter-spacing="-0.3">15</text>
<line x1="31.85" y1="394.60" x2="31.85" y2="397.80" stroke="#000" stroke-width="1.3" />
<text x="31.85" y="406.60" font-size="8.2" text-anchor="middle" fill="#000" stroke="#000" stroke-width="0.2" >0</text>
<line x1="67.00" y1="394.60" x2="67.00" y2="397.80" stroke="#000" stroke-width="1.3" />
<text x="67.00" y="406.60" font-size="8.2" text-anchor="middle" fill="#000" stroke="#000" stroke-width="0.2" >10</text>
<line x1="102.15" y1="394.60" x2="102.15" y2="397.80" stroke="#000" stroke-width="1.3" />
<text x="102.15" y="406.60" font-size="8.2" text-anchor="middle" fill="#000" stroke="#000" stroke-width="0.2" >20</text>
<line x1="137.30" y1="394.60" x2="137.30" y2="397.80" stroke="#000" stroke-width="1.3" />
<text x="137.30" y="406.60" font-size="8.2" text-anchor="middle" fill="#000" stroke="#000" stroke-width="0.2" >30</text>
<text x="40.20" y="317.95" font-size="17.8" text-anchor="start" fill="#000" stroke="#000" stroke-width="0.2" >i</text>
<path d="M31.9,394.6 L32.0,394.2 L32.3,393.3 L32.7,392.1 L33.2,390.8 L33.8,389.3 L34.5,387.7 L35.2,386.0 L36.0,384.3 L36.9,382.6 L37.8,380.8 L38.8,379.1 L39.9,377.5 L41.0,375.8 L42.1,374.2 L43.3,372.7 L44.6,371.2 L45.9,369.8 L47.2,368.4 L48.6,367.1 L50.0,365.8 L51.5,364.6 L53.0,363.5 L54.6,362.4 L56.2,361.3 L57.8,360.3 L59.5,359.3 L61.2,358.4 L63.0,357.5 L64.8,356.7 L66.6,355.9 L68.5,355.1 L70.4,354.4 L72.4,353.7 L74.3,353.1 L76.4,352.4 L78.4,351.8 L80.5,351.2 L82.6,350.7 L84.8,350.2 L87.0,349.6 L89.2,349.2 L91.4,348.7 L93.7,348.2 L96.0,347.8 L98.4,347.4 L100.8,347.0 L103.2,346.6 L105.6,346.3 L108.1,345.9 L110.6,345.6 L113.2,345.3 L115.7,344.9 L118.3,344.6 L120.9,344.3 L123.6,344.1 L126.3,343.8 L129.0,343.5 L131.7,343.3 L134.5,343.0 L137.3,342.8" fill="none" stroke="#ffa60a" stroke-width="1.45" stroke-dasharray="1.3 1.3"/>
<path d="M31.9,394.6 L32.0,394.2 L32.3,393.3 L32.7,392.2 L33.2,390.8 L33.8,389.3 L34.5,387.7 L35.2,386.0 L36.0,384.3 L36.9,382.5 L37.8,380.8 L38.8,379.0 L39.9,377.2 L41.0,375.5 L42.1,373.8 L43.3,372.1 L44.6,370.5 L45.9,369.0 L47.2,367.5 L48.6,366.0 L50.0,364.6 L51.5,363.2 L53.0,361.9 L54.6,360.7 L56.2,359.5 L57.8,358.3 L59.5,357.2 L61.2,356.2 L63.0,355.1 L64.8,354.2 L66.6,353.2 L68.5,352.3 L70.4,351.5 L72.4,350.7 L74.3,349.9 L76.4,349.1 L78.4,348.4 L80.5,347.7 L82.6,347.0 L84.8,346.4 L87.0,345.8 L89.2,345.2 L91.4,344.6 L93.7,344.1 L96.0,343.5 L98.4,343.0 L100.8,342.6 L103.2,342.1 L105.6,341.6 L108.1,341.2 L110.6,340.8 L113.2,340.4 L115.7,340.0 L118.3,339.6 L120.9,339.3 L123.6,338.9 L126.3,338.6 L129.0,338.2 L131.7,337.9 L134.5,337.6 L137.3,337.3" fill="none" stroke="#7af500" stroke-width="1.45" stroke-dasharray="1.3 1.3"/>
<path d="M31.9,394.6 L32.0,394.3 L32.3,393.6 L32.7,392.7 L33.2,391.5 L33.8,390.3 L34.5,388.9 L35.2,387.5 L36.0,385.9 L36.9,384.3 L37.8,382.6 L38.8,381.0 L39.9,379.2 L41.0,377.5 L42.1,375.8 L43.3,374.1 L44.6,372.3 L45.9,370.6 L47.2,369.0 L48.6,367.3 L50.0,365.7 L51.5,364.1 L53.0,362.5 L54.6,361.0 L56.2,359.5 L57.8,358.0 L59.5,356.6 L61.2,355.2 L63.0,353.8 L64.8,352.5 L66.6,351.2 L68.5,349.9 L70.4,348.7 L72.4,347.5 L74.3,346.4 L76.4,345.3 L78.4,344.2 L80.5,343.2 L82.6,342.1 L84.8,341.1 L87.0,340.2 L89.2,339.3 L91.4,338.4 L93.7,337.5 L96.0,336.6 L98.4,335.8 L100.8,335.0 L103.2,334.2 L105.6,333.5 L108.1,332.8 L110.6,332.0 L113.2,331.4 L115.7,330.7 L118.3,330.0 L120.9,329.4 L123.6,328.8 L126.3,328.2 L129.0,327.6 L131.7,327.1 L134.5,326.5 L137.3,326.0" fill="none" stroke="#ffa60a" stroke-width="1.9" />
<path d="M31.9,394.6 L32.0,393.8 L32.3,392.2 L32.7,390.1 L33.2,387.8 L33.8,385.2 L34.5,382.5 L35.2,379.8 L36.0,377.1 L36.9,374.4 L37.8,371.8 L38.8,369.3 L39.9,366.9 L41.0,364.6 L42.1,362.4 L43.3,360.3 L44.6,358.4 L45.9,356.5 L47.2,354.8 L48.6,353.1 L50.0,351.6 L51.5,350.1 L53.0,348.8 L54.6,347.5 L56.2,346.3 L57.8,345.1 L59.5,344.0 L61.2,343.0 L63.0,342.0 L64.8,341.1 L66.6,340.3 L68.5,339.5 L70.4,338.7 L72.4,338.0 L74.3,337.3 L76.4,336.6 L78.4,336.0 L80.5,335.4 L82.6,334.9 L84.8,334.3 L87.0,333.8 L89.2,333.3 L91.4,332.9 L93.7,332.4 L96.0,332.0 L98.4,331.6 L100.8,331.2 L103.2,330.9 L105.6,330.5 L108.1,330.2 L110.6,329.9 L113.2,329.6 L115.7,329.3 L118.3,329.0 L120.9,328.7 L123.6,328.5 L126.3,328.2 L129.0,328.0 L131.7,327.7 L134.5,327.5 L137.3,327.3" fill="none" stroke="#7af500" stroke-width="1.9" />
<polygon points="49.42,358.62 52.22,353.62 46.62,353.62" fill="#ffa60a"/>
<polygon points="67.00,367.09 69.80,362.09 64.20,362.09" fill="#ffa60a"/>
<polygon points="137.30,342.23 140.10,337.23 134.50,337.23" fill="#ffa60a"/>
<polygon points="33.61,388.78 36.41,393.78 30.81,393.78" fill="#7af500"/>
<polygon points="49.42,362.22 52.22,367.22 46.62,367.22" fill="#7af500"/>
<polygon points="67.00,354.31 69.80,359.31 64.20,359.31" fill="#7af500"/>
<polygon points="137.30,333.97 140.10,338.97 134.50,338.97" fill="#7af500"/>
<rect x="30.91" y="389.08" width="5.4" height="5.4" fill="#ffa60a"/>
<rect x="46.72" y="361.96" width="5.4" height="5.4" fill="#ffa60a"/>
<rect x="64.30" y="347.27" width="5.4" height="5.4" fill="#ffa60a"/>
<rect x="134.60" y="324.10" width="5.4" height="5.4" fill="#ffa60a"/>
<circle cx="33.61" cy="388.95" r="2.7" fill="#7af500"/>
<circle cx="49.42" cy="348.27" r="2.7" fill="#7af500"/>
<circle cx="67.00" cy="339.23" r="2.7" fill="#7af500"/>
<circle cx="137.30" cy="327.93" r="2.7" fill="#7af500"/>
<path d="M213.00,312.85 L213.00,394.30 L335.00,394.30" fill="none" stroke="#000" stroke-width="1.5"/>
<line x1="209.20" y1="394.30" x2="213.00" y2="394.30" stroke="#000" stroke-width="1.2" />
<text x="209.30" y="397.30" font-size="8.2" text-anchor="end" fill="#000" stroke="#000" stroke-width="0.2" letter-spacing="-0.3">0</text>
<line x1="209.20" y1="367.15" x2="213.00" y2="367.15" stroke="#000" stroke-width="1.2" />
<text x="209.30" y="370.15" font-size="8.2" text-anchor="end" fill="#000" stroke="#000" stroke-width="0.2" letter-spacing="-0.3">5</text>
<line x1="209.20" y1="340.00" x2="213.00" y2="340.00" stroke="#000" stroke-width="1.2" />
<text x="209.30" y="343.00" font-size="8.2" text-anchor="end" fill="#000" stroke="#000" stroke-width="0.2" letter-spacing="-0.3">10</text>
<line x1="209.20" y1="312.85" x2="213.00" y2="312.85" stroke="#000" stroke-width="1.2" />
<text x="209.30" y="315.85" font-size="8.2" text-anchor="end" fill="#000" stroke="#000" stroke-width="0.2" letter-spacing="-0.3">15</text>
<line x1="213.00" y1="394.30" x2="213.00" y2="397.50" stroke="#000" stroke-width="1.3" />
<text x="213.00" y="406.30" font-size="8.2" text-anchor="middle" fill="#000" stroke="#000" stroke-width="0.2" >0</text>
<line x1="247.90" y1="394.30" x2="247.90" y2="397.50" stroke="#000" stroke-width="1.3" />
<text x="247.90" y="406.30" font-size="8.2" text-anchor="middle" fill="#000" stroke="#000" stroke-width="0.2" >10</text>
<line x1="282.80" y1="394.30" x2="282.80" y2="397.50" stroke="#000" stroke-width="1.3" />
<text x="282.80" y="406.30" font-size="8.2" text-anchor="middle" fill="#000" stroke="#000" stroke-width="0.2" >20</text>
<line x1="317.70" y1="394.30" x2="317.70" y2="397.50" stroke="#000" stroke-width="1.3" />
<text x="317.70" y="406.30" font-size="8.2" text-anchor="middle" fill="#000" stroke="#000" stroke-width="0.2" >30</text>
<text x="217.80" y="317.00" font-size="17.8" text-anchor="start" fill="#000" stroke="#000" stroke-width="0.2" >j</text>
<path d="M213.0,394.3 L213.1,394.0 L213.5,393.3 L213.9,392.4 L214.4,391.3 L215.0,390.2 L215.6,389.0 L216.4,387.8 L217.2,386.6 L218.0,385.3 L219.0,384.1 L219.9,383.0 L221.0,381.9 L222.1,380.8 L223.2,379.8 L224.4,378.8 L225.6,377.8 L226.9,377.0 L228.3,376.1 L229.6,375.3 L231.1,374.6 L232.5,373.8 L234.0,373.2 L235.6,372.5 L237.2,371.9 L238.8,371.3 L240.5,370.8 L242.2,370.3 L243.9,369.8 L245.7,369.4 L247.5,368.9 L249.4,368.5 L251.3,368.1 L253.2,367.7 L255.2,367.4 L257.2,367.1 L259.2,366.7 L261.3,366.4 L263.4,366.1 L265.6,365.9 L267.7,365.6 L269.9,365.4 L272.2,365.1 L274.4,364.9 L276.7,364.7 L279.1,364.5 L281.4,364.3 L283.8,364.1 L286.3,363.9 L288.7,363.7 L291.2,363.6 L293.7,363.4 L296.3,363.2 L298.9,363.1 L301.5,362.9 L304.1,362.8 L306.8,362.7 L309.5,362.5 L312.2,362.4 L314.9,362.3 L317.7,362.2" fill="none" stroke="#ffa60a" stroke-width="1.45" stroke-dasharray="1.3 1.3"/>
<path d="M213.0,394.3 L213.1,393.9 L213.5,393.0 L213.9,391.9 L214.4,390.6 L215.0,389.3 L215.6,388.0 L216.4,386.6 L217.2,385.3 L218.0,384.1 L219.0,382.9 L219.9,381.7 L221.0,380.7 L222.1,379.7 L223.2,378.8 L224.4,377.9 L225.6,377.1 L226.9,376.3 L228.3,375.6 L229.6,375.0 L231.1,374.4 L232.5,373.8 L234.0,373.3 L235.6,372.8 L237.2,372.3 L238.8,371.9 L240.5,371.5 L242.2,371.1 L243.9,370.8 L245.7,370.4 L247.5,370.1 L249.4,369.8 L251.3,369.6 L253.2,369.3 L255.2,369.1 L257.2,368.8 L259.2,368.6 L261.3,368.4 L263.4,368.2 L265.6,368.0 L267.7,367.9 L269.9,367.7 L272.2,367.5 L274.4,367.4 L276.7,367.2 L279.1,367.1 L281.4,367.0 L283.8,366.9 L286.3,366.7 L288.7,366.6 L291.2,366.5 L293.7,366.4 L296.3,366.3 L298.9,366.2 L301.5,366.1 L304.1,366.1 L306.8,366.0 L309.5,365.9 L312.2,365.8 L314.9,365.7 L317.7,365.7" fill="none" stroke="#7af500" stroke-width="1.45" stroke-dasharray="1.3 1.3"/>
<path d="M213.0,394.3 L213.1,393.8 L213.5,392.7 L213.9,391.4 L214.4,389.8 L215.0,388.1 L215.6,386.4 L216.4,384.6 L217.2,382.8 L218.0,381.1 L219.0,379.4 L219.9,377.8 L221.0,376.2 L222.1,374.8 L223.2,373.4 L224.4,372.0 L225.6,370.8 L226.9,369.6 L228.3,368.5 L229.6,367.4 L231.1,366.4 L232.5,365.5 L234.0,364.6 L235.6,363.8 L237.2,363.0 L238.8,362.3 L240.5,361.6 L242.2,361.0 L243.9,360.4 L245.7,359.8 L247.5,359.2 L249.4,358.7 L251.3,358.2 L253.2,357.8 L255.2,357.3 L257.2,356.9 L259.2,356.5 L261.3,356.2 L263.4,355.8 L265.6,355.5 L267.7,355.2 L269.9,354.9 L272.2,354.6 L274.4,354.3 L276.7,354.0 L279.1,353.8 L281.4,353.5 L283.8,353.3 L286.3,353.1 L288.7,352.9 L291.2,352.7 L293.7,352.5 L296.3,352.3 L298.9,352.1 L301.5,351.9 L304.1,351.8 L306.8,351.6 L309.5,351.5 L312.2,351.3 L314.9,351.2 L317.7,351.1" fill="none" stroke="#ffa60a" stroke-width="1.9" />
<path d="M213.0,394.3 L213.1,393.8 L213.5,392.7 L213.9,391.3 L214.4,389.8 L215.0,388.1 L215.6,386.3 L216.4,384.5 L217.2,382.7 L218.0,381.0 L219.0,379.3 L219.9,377.6 L221.0,376.0 L222.1,374.6 L223.2,373.1 L224.4,371.8 L225.6,370.5 L226.9,369.3 L228.3,368.2 L229.6,367.1 L231.1,366.1 L232.5,365.2 L234.0,364.3 L235.6,363.5 L237.2,362.7 L238.8,362.0 L240.5,361.3 L242.2,360.6 L243.9,360.0 L245.7,359.4 L247.5,358.9 L249.4,358.3 L251.3,357.8 L253.2,357.4 L255.2,356.9 L257.2,356.5 L259.2,356.1 L261.3,355.7 L263.4,355.4 L265.6,355.1 L267.7,354.7 L269.9,354.4 L272.2,354.1 L274.4,353.8 L276.7,353.6 L279.1,353.3 L281.4,353.1 L283.8,352.9 L286.3,352.6 L288.7,352.4 L291.2,352.2 L293.7,352.0 L296.3,351.8 L298.9,351.6 L301.5,351.5 L304.1,351.3 L306.8,351.2 L309.5,351.0 L312.2,350.9 L314.9,350.7 L317.7,350.6" fill="none" stroke="#7af500" stroke-width="1.9" />
<polygon points="230.45,376.12 233.25,371.12 227.65,371.12" fill="#ffa60a"/>
<polygon points="247.90,373.41 250.70,368.41 245.10,368.41" fill="#ffa60a"/>
<polygon points="317.70,363.63 320.50,358.63 314.90,358.63" fill="#ffa60a"/>
<polygon points="214.75,388.59 217.55,393.59 211.94,393.59" fill="#7af500"/>
<polygon points="230.45,370.39 233.25,375.39 227.65,375.39" fill="#7af500"/>
<polygon points="247.90,367.41 250.70,372.41 245.10,372.41" fill="#7af500"/>
<polygon points="317.70,363.61 320.50,368.61 314.90,368.61" fill="#7af500"/>
<rect x="212.05" y="387.26" width="5.4" height="5.4" fill="#ffa60a"/>
<rect x="227.75" y="364.45" width="5.4" height="5.4" fill="#ffa60a"/>
<rect x="245.20" y="359.02" width="5.4" height="5.4" fill="#ffa60a"/>
<rect x="315.00" y="348.16" width="5.4" height="5.4" fill="#ffa60a"/>
<circle cx="214.75" cy="390.50" r="2.7" fill="#7af500"/>
<circle cx="230.45" cy="363.35" r="2.7" fill="#7af500"/>
<circle cx="247.90" cy="362.26" r="2.7" fill="#7af500"/>
<circle cx="317.70" cy="348.96" r="2.7" fill="#7af500"/>
<path d="M387.40,313.30 L387.40,394.60 L507.50,394.60" fill="none" stroke="#000" stroke-width="1.5"/>
<line x1="383.60" y1="394.60" x2="387.40" y2="394.60" stroke="#000" stroke-width="1.2" />
<text x="383.70" y="397.60" font-size="8.2" text-anchor="end" fill="#000" stroke="#000" stroke-width="0.2" letter-spacing="-0.3">0</text>
<line x1="383.60" y1="367.50" x2="387.40" y2="367.50" stroke="#000" stroke-width="1.2" />
<text x="383.70" y="370.50" font-size="8.2" text-anchor="end" fill="#000" stroke="#000" stroke-width="0.2" letter-spacing="-0.3">5</text>
<line x1="383.60" y1="340.40" x2="387.40" y2="340.40" stroke="#000" stroke-width="1.2" />
<text x="383.70" y="343.40" font-size="8.2" text-anchor="end" fill="#000" stroke="#000" stroke-width="0.2" letter-spacing="-0.3">10</text>
<line x1="383.60" y1="313.30" x2="387.40" y2="313.30" stroke="#000" stroke-width="1.2" />
<text x="383.70" y="316.30" font-size="8.2" text-anchor="end" fill="#000" stroke="#000" stroke-width="0.2" letter-spacing="-0.3">15</text>
<line x1="387.40" y1="394.60" x2="387.40" y2="397.80" stroke="#000" stroke-width="1.3" />
<text x="387.40" y="406.60" font-size="8.2" text-anchor="middle" fill="#000" stroke="#000" stroke-width="0.2" >0</text>
<line x1="421.90" y1="394.60" x2="421.90" y2="397.80" stroke="#000" stroke-width="1.3" />
<text x="421.90" y="406.60" font-size="8.2" text-anchor="middle" fill="#000" stroke="#000" stroke-width="0.2" >10</text>
<line x1="456.40" y1="394.60" x2="456.40" y2="397.80" stroke="#000" stroke-width="1.3" />
<text x="456.40" y="406.60" font-size="8.2" text-anchor="middle" fill="#000" stroke="#000" stroke-width="0.2" >20</text>
<line x1="490.90" y1="394.60" x2="490.90" y2="397.80" stroke="#000" stroke-width="1.3" />
<text x="490.90" y="406.60" font-size="8.2" text-anchor="middle" fill="#000" stroke="#000" stroke-width="0.2" >30</text>
<text x="391.15" y="317.60" font-size="17.8" text-anchor="start" fill="#000" stroke="#000" stroke-width="0.2" >k</text>
<path d="M387.4,394.6 L387.5,394.1 L387.8,393.1 L388.3,391.7 L388.8,390.2 L389.3,388.4 L390.0,386.6 L390.7,384.6 L391.5,382.6 L392.4,380.6 L393.3,378.6 L394.3,376.6 L395.3,374.6 L396.4,372.7 L397.5,370.8 L398.7,369.0 L399.9,367.2 L401.2,365.5 L402.5,363.9 L403.8,362.3 L405.2,360.8 L406.7,359.4 L408.2,358.0 L409.7,356.7 L411.3,355.4 L412.9,354.2 L414.6,353.1 L416.2,352.0 L418.0,350.9 L419.7,349.9 L421.5,348.9 L423.4,348.0 L425.3,347.2 L427.2,346.3 L429.1,345.5 L431.1,344.8 L433.1,344.0 L435.2,343.3 L437.2,342.6 L439.4,342.0 L441.5,341.4 L443.7,340.8 L445.9,340.2 L448.1,339.7 L450.4,339.2 L452.7,338.7 L455.1,338.2 L457.4,337.7 L459.8,337.3 L462.3,336.8 L464.7,336.4 L467.2,336.0 L469.7,335.7 L472.3,335.3 L474.8,334.9 L477.4,334.6 L480.1,334.3 L482.7,334.0 L485.4,333.6 L488.2,333.3 L490.9,333.1" fill="none" stroke="#ffa60a" stroke-width="1.45" stroke-dasharray="1.3 1.3"/>
<path d="M387.4,394.6 L387.5,394.2 L387.8,393.4 L388.3,392.4 L388.8,391.2 L389.3,389.8 L390.0,388.3 L390.7,386.7 L391.5,385.1 L392.4,383.4 L393.3,381.7 L394.3,380.0 L395.3,378.2 L396.4,376.5 L397.5,374.8 L398.7,373.2 L399.9,371.5 L401.2,369.9 L402.5,368.4 L403.8,366.9 L405.2,365.4 L406.7,363.9 L408.2,362.6 L409.7,361.2 L411.3,359.9 L412.9,358.7 L414.6,357.5 L416.2,356.3 L418.0,355.2 L419.7,354.1 L421.5,353.1 L423.4,352.0 L425.3,351.1 L427.2,350.1 L429.1,349.2 L431.1,348.4 L433.1,347.6 L435.2,346.7 L437.2,346.0 L439.4,345.2 L441.5,344.5 L443.7,343.8 L445.9,343.2 L448.1,342.5 L450.4,341.9 L452.7,341.3 L455.1,340.7 L457.4,340.2 L459.8,339.6 L462.3,339.1 L464.7,338.6 L467.2,338.1 L469.7,337.7 L472.3,337.2 L474.8,336.8 L477.4,336.3 L480.1,335.9 L482.7,335.5 L485.4,335.1 L488.2,334.8 L490.9,334.4" fill="none" stroke="#7af500" stroke-width="1.45" stroke-dasharray="1.3 1.3"/>
<path d="M387.4,394.6 L387.5,394.0 L387.8,392.7 L388.3,391.0 L388.8,389.0 L389.3,386.8 L390.0,384.5 L390.7,382.0 L391.5,379.5 L392.4,376.9 L393.3,374.3 L394.3,371.8 L395.3,369.2 L396.4,366.8 L397.5,364.3 L398.7,362.0 L399.9,359.7 L401.2,357.5 L402.5,355.4 L403.8,353.3 L405.2,351.4 L406.7,349.5 L408.2,347.7 L409.7,345.9 L411.3,344.3 L412.9,342.7 L414.6,341.2 L416.2,339.7 L418.0,338.3 L419.7,337.0 L421.5,335.7 L423.4,334.5 L425.3,333.3 L427.2,332.2 L429.1,331.2 L431.1,330.1 L433.1,329.2 L435.2,328.2 L437.2,327.3 L439.4,326.5 L441.5,325.6 L443.7,324.8 L445.9,324.1 L448.1,323.3 L450.4,322.6 L452.7,322.0 L455.1,321.3 L457.4,320.7 L459.8,320.1 L462.3,319.5 L464.7,319.0 L467.2,318.4 L469.7,317.9 L472.3,317.4 L474.8,317.0 L477.4,316.5 L480.1,316.0 L482.7,315.6 L485.4,315.2 L488.2,314.8 L490.9,314.4" fill="none" stroke="#ffa60a" stroke-width="1.9" />
<path d="M387.4,394.6 L387.5,394.2 L387.8,393.3 L388.3,392.2 L388.8,390.8 L389.3,389.3 L390.0,387.6 L390.7,385.8 L391.5,383.9 L392.4,382.0 L393.3,380.0 L394.3,378.0 L395.3,376.0 L396.4,373.9 L397.5,371.9 L398.7,369.9 L399.9,368.0 L401.2,366.0 L402.5,364.1 L403.8,362.2 L405.2,360.4 L406.7,358.6 L408.2,356.9 L409.7,355.2 L411.3,353.6 L412.9,352.0 L414.6,350.4 L416.2,348.9 L418.0,347.5 L419.7,346.1 L421.5,344.7 L423.4,343.4 L425.3,342.1 L427.2,340.9 L429.1,339.7 L431.1,338.6 L433.1,337.5 L435.2,336.4 L437.2,335.3 L439.4,334.3 L441.5,333.4 L443.7,332.4 L445.9,331.5 L448.1,330.7 L450.4,329.8 L452.7,329.0 L455.1,328.2 L457.4,327.4 L459.8,326.7 L462.3,326.0 L464.7,325.3 L467.2,324.6 L469.7,323.9 L472.3,323.3 L474.8,322.7 L477.4,322.1 L480.1,321.5 L482.7,321.0 L485.4,320.4 L488.2,319.9 L490.9,319.4" fill="none" stroke="#7af500" stroke-width="1.9" />
<polygon points="404.65,367.25 407.45,362.25 401.85,362.25" fill="#ffa60a"/>
<polygon points="421.90,349.90 424.70,344.90 419.10,344.90" fill="#ffa60a"/>
<polygon points="490.90,335.27 493.70,330.27 488.10,330.27" fill="#ffa60a"/>
<polygon points="404.65,360.16 407.45,365.16 401.85,365.16" fill="#7af500"/>
<polygon points="421.90,358.00 424.70,363.00 419.10,363.00" fill="#7af500"/>
<polygon points="490.90,331.44 493.70,336.44 488.10,336.44" fill="#7af500"/>
<rect x="386.43" y="387.56" width="5.4" height="5.4" fill="#ffa60a"/>
<rect x="401.95" y="346.91" width="5.4" height="5.4" fill="#ffa60a"/>
<rect x="419.20" y="332.28" width="5.4" height="5.4" fill="#ffa60a"/>
<rect x="488.20" y="312.23" width="5.4" height="5.4" fill="#ffa60a"/>
<circle cx="389.12" cy="391.35" r="2.7" fill="#7af500"/>
<circle cx="404.65" cy="361.00" r="2.7" fill="#7af500"/>
<circle cx="421.90" cy="346.36" r="2.7" fill="#7af500"/>
<circle cx="490.90" cy="319.80" r="2.7" fill="#7af500"/>
<path d="M558.90,313.60 L558.90,395.20 L680.80,395.20" fill="none" stroke="#000" stroke-width="1.5"/>
<line x1="555.10" y1="395.20" x2="558.90" y2="395.20" stroke="#000" stroke-width="1.2" />
<text x="555.20" y="398.20" font-size="8.2" text-anchor="end" fill="#000" stroke="#000" stroke-width="0.2" letter-spacing="-0.3">0</text>
<line x1="555.10" y1="368.00" x2="558.90" y2="368.00" stroke="#000" stroke-width="1.2" />
<text x="555.20" y="371.00" font-size="8.2" text-anchor="end" fill="#000" stroke="#000" stroke-width="0.2" letter-spacing="-0.3">5</text>
<line x1="555.10" y1="340.80" x2="558.90" y2="340.80" stroke="#000" stroke-width="1.2" />
<text x="555.20" y="343.80" font-size="8.2" text-anchor="end" fill="#000" stroke="#000" stroke-width="0.2" letter-spacing="-0.3">10</text>
<line x1="555.10" y1="313.60" x2="558.90" y2="313.60" stroke="#000" stroke-width="1.2" />
<text x="555.20" y="316.60" font-size="8.2" text-anchor="end" fill="#000" stroke="#000" stroke-width="0.2" letter-spacing="-0.3">15</text>
<line x1="558.90" y1="395.20" x2="558.90" y2="398.40" stroke="#000" stroke-width="1.3" />
<text x="558.90" y="407.20" font-size="8.2" text-anchor="middle" fill="#000" stroke="#000" stroke-width="0.2" >0</text>
<line x1="593.70" y1="395.20" x2="593.70" y2="398.40" stroke="#000" stroke-width="1.3" />
<text x="593.70" y="407.20" font-size="8.2" text-anchor="middle" fill="#000" stroke="#000" stroke-width="0.2" >10</text>
<line x1="628.50" y1="395.20" x2="628.50" y2="398.40" stroke="#000" stroke-width="1.3" />
<text x="628.50" y="407.20" font-size="8.2" text-anchor="middle" fill="#000" stroke="#000" stroke-width="0.2" >20</text>
<line x1="663.30" y1="395.20" x2="663.30" y2="398.40" stroke="#000" stroke-width="1.3" />
<text x="663.30" y="407.20" font-size="8.2" text-anchor="middle" fill="#000" stroke="#000" stroke-width="0.2" >30</text>
<text x="563.65" y="317.45" font-size="17.8" text-anchor="start" fill="#000" stroke="#000" stroke-width="0.2" >l</text>
<path d="M558.9,395.2 L559.0,394.8 L559.4,394.1 L559.8,393.1 L560.3,391.8 L560.9,390.5 L561.5,389.0 L562.3,387.5 L563.1,385.8 L563.9,384.2 L564.8,382.5 L565.8,380.7 L566.8,379.0 L567.9,377.3 L569.1,375.6 L570.3,373.9 L571.5,372.3 L572.8,370.6 L574.1,369.1 L575.5,367.5 L576.9,366.0 L578.4,364.6 L579.9,363.1 L581.4,361.8 L583.0,360.4 L584.6,359.1 L586.3,357.9 L588.0,356.7 L589.7,355.5 L591.5,354.4 L593.3,353.3 L595.2,352.3 L597.1,351.3 L599.0,350.3 L601.0,349.4 L603.0,348.5 L605.0,347.6 L607.1,346.7 L609.2,345.9 L611.3,345.1 L613.5,344.4 L615.7,343.7 L617.9,343.0 L620.2,342.3 L622.5,341.6 L624.8,341.0 L627.1,340.4 L629.5,339.8 L632.0,339.2 L634.4,338.7 L636.9,338.1 L639.4,337.6 L641.9,337.1 L644.5,336.7 L647.1,336.2 L649.7,335.7 L652.4,335.3 L655.1,334.9 L657.8,334.5 L660.5,334.1 L663.3,333.7" fill="none" stroke="#ffa60a" stroke-width="1.45" stroke-dasharray="1.3 1.3"/>
<path d="M558.9,395.2 L559.0,394.7 L559.4,393.6 L559.8,392.3 L560.3,390.8 L560.9,389.2 L561.5,387.5 L562.3,385.9 L563.1,384.2 L563.9,382.6 L564.8,381.1 L565.8,379.7 L566.8,378.3 L567.9,377.0 L569.1,375.8 L570.3,374.6 L571.5,373.6 L572.8,372.6 L574.1,371.6 L575.5,370.8 L576.9,370.0 L578.4,369.2 L579.9,368.5 L581.4,367.8 L583.0,367.2 L584.6,366.6 L586.3,366.1 L588.0,365.6 L589.7,365.1 L591.5,364.6 L593.3,364.2 L595.2,363.8 L597.1,363.4 L599.0,363.1 L601.0,362.7 L603.0,362.4 L605.0,362.1 L607.1,361.8 L609.2,361.5 L611.3,361.3 L613.5,361.0 L615.7,360.8 L617.9,360.6 L620.2,360.4 L622.5,360.2 L624.8,360.0 L627.1,359.8 L629.5,359.6 L632.0,359.5 L634.4,359.3 L636.9,359.2 L639.4,359.0 L641.9,358.9 L644.5,358.7 L647.1,358.6 L649.7,358.5 L652.4,358.4 L655.1,358.3 L657.8,358.2 L660.5,358.1 L663.3,358.0" fill="none" stroke="#7af500" stroke-width="1.45" stroke-dasharray="1.3 1.3"/>
<path d="M558.9,395.2 L559.0,394.9 L559.4,394.3 L559.8,393.5 L560.3,392.6 L560.9,391.5 L561.5,390.4 L562.3,389.1 L563.1,387.9 L563.9,386.6 L564.8,385.2 L565.8,383.9 L566.8,382.5 L567.9,381.2 L569.1,379.9 L570.3,378.5 L571.5,377.3 L572.8,376.0 L574.1,374.8 L575.5,373.5 L576.9,372.4 L578.4,371.2 L579.9,370.1 L581.4,369.0 L583.0,368.0 L584.6,367.0 L586.3,366.0 L588.0,365.1 L589.7,364.2 L591.5,363.3 L593.3,362.4 L595.2,361.6 L597.1,360.8 L599.0,360.1 L601.0,359.3 L603.0,358.6 L605.0,357.9 L607.1,357.3 L609.2,356.7 L611.3,356.0 L613.5,355.5 L615.7,354.9 L617.9,354.3 L620.2,353.8 L622.5,353.3 L624.8,352.8 L627.1,352.3 L629.5,351.9 L632.0,351.4 L634.4,351.0 L636.9,350.6 L639.4,350.2 L641.9,349.8 L644.5,349.4 L647.1,349.0 L649.7,348.7 L652.4,348.3 L655.1,348.0 L657.8,347.7 L660.5,347.4 L663.3,347.1" fill="none" stroke="#ffa60a" stroke-width="1.9" />
<path d="M558.9,395.2 L559.0,394.9 L559.4,394.3 L559.8,393.5 L560.3,392.5 L560.9,391.4 L561.5,390.2 L562.3,388.9 L563.1,387.6 L563.9,386.3 L564.8,384.9 L565.8,383.6 L566.8,382.2 L567.9,380.8 L569.1,379.5 L570.3,378.1 L571.5,376.8 L572.8,375.6 L574.1,374.3 L575.5,373.1 L576.9,371.9 L578.4,370.8 L579.9,369.7 L581.4,368.6 L583.0,367.6 L584.6,366.6 L586.3,365.6 L588.0,364.7 L589.7,363.8 L591.5,363.0 L593.3,362.1 L595.2,361.3 L597.1,360.6 L599.0,359.8 L601.0,359.1 L603.0,358.4 L605.0,357.8 L607.1,357.1 L609.2,356.5 L611.3,355.9 L613.5,355.3 L615.7,354.8 L617.9,354.3 L620.2,353.7 L622.5,353.3 L624.8,352.8 L627.1,352.3 L629.5,351.9 L632.0,351.4 L634.4,351.0 L636.9,350.6 L639.4,350.2 L641.9,349.9 L644.5,349.5 L647.1,349.2 L649.7,348.8 L652.4,348.5 L655.1,348.2 L657.8,347.9 L660.5,347.6 L663.3,347.3" fill="none" stroke="#7af500" stroke-width="1.9" />
<polygon points="560.64,388.95 563.44,383.95 557.84,383.95" fill="#ffa60a"/>
<polygon points="576.30,367.74 579.10,362.74 573.50,362.74" fill="#ffa60a"/>
<polygon points="593.70,363.66 596.50,358.66 590.90,358.66" fill="#ffa60a"/>
<polygon points="663.30,335.10 666.10,330.10 660.50,330.10" fill="#ffa60a"/>
<polygon points="576.30,367.18 579.10,372.18 573.50,372.18" fill="#7af500"/>
<polygon points="593.70,362.28 596.50,367.28 590.90,367.28" fill="#7af500"/>
<polygon points="663.30,354.66 666.10,359.66 660.50,359.66" fill="#7af500"/>
<rect x="557.94" y="389.78" width="5.4" height="5.4" fill="#ffa60a"/>
<rect x="573.60" y="371.28" width="5.4" height="5.4" fill="#ffa60a"/>
<rect x="591.00" y="359.86" width="5.4" height="5.4" fill="#ffa60a"/>
<rect x="660.60" y="344.63" width="5.4" height="5.4" fill="#ffa60a"/>
<circle cx="560.64" cy="393.57" r="2.7" fill="#7af500"/>
<circle cx="576.30" cy="371.26" r="2.7" fill="#7af500"/>
<circle cx="593.70" cy="366.37" r="2.7" fill="#7af500"/>
<circle cx="663.30" cy="347.33" r="2.7" fill="#7af500"/>
<path d="M32.30,423.60 L32.30,511.40 L155.00,511.40" fill="none" stroke="#000" stroke-width="1.5"/>
<line x1="28.50" y1="511.40" x2="32.30" y2="511.40" stroke="#000" stroke-width="1.2" />
<text x="28.60" y="514.40" font-size="8.2" text-anchor="end" fill="#000" stroke="#000" stroke-width="0.2" letter-spacing="-0.3">0</text>
<line x1="28.50" y1="489.45" x2="32.30" y2="489.45" stroke="#000" stroke-width="1.2" />
<text x="28.60" y="492.45" font-size="8.2" text-anchor="end" fill="#000" stroke="#000" stroke-width="0.2" letter-spacing="-0.3">5</text>
<line x1="28.50" y1="467.50" x2="32.30" y2="467.50" stroke="#000" stroke-width="1.2" />
<text x="28.60" y="470.50" font-size="8.2" text-anchor="end" fill="#000" stroke="#000" stroke-width="0.2" letter-spacing="-0.3">10</text>
<line x1="28.50" y1="445.55" x2="32.30" y2="445.55" stroke="#000" stroke-width="1.2" />
<text x="28.60" y="448.55" font-size="8.2" text-anchor="end" fill="#000" stroke="#000" stroke-width="0.2" letter-spacing="-0.3">15</text>
<line x1="28.50" y1="423.60" x2="32.30" y2="423.60" stroke="#000" stroke-width="1.2" />
<text x="28.60" y="426.60" font-size="8.2" text-anchor="end" fill="#000" stroke="#000" stroke-width="0.2" letter-spacing="-0.3">20</text>
<line x1="32.30" y1="511.40" x2="32.30" y2="514.60" stroke="#000" stroke-width="1.3" />
<text x="32.30" y="523.10" font-size="8.2" text-anchor="middle" fill="#000" stroke="#000" stroke-width="0.2" >0</text>
<line x1="67.30" y1="511.40" x2="67.30" y2="514.60" stroke="#000" stroke-width="1.3" />
<text x="67.30" y="523.10" font-size="8.2" text-anchor="middle" fill="#000" stroke="#000" stroke-width="0.2" >10</text>
<line x1="102.30" y1="511.40" x2="102.30" y2="514.60" stroke="#000" stroke-width="1.3" />
<text x="102.30" y="523.10" font-size="8.2" text-anchor="middle" fill="#000" stroke="#000" stroke-width="0.2" >20</text>
<line x1="137.30" y1="511.40" x2="137.30" y2="514.60" stroke="#000" stroke-width="1.3" />
<text x="137.30" y="523.10" font-size="8.2" text-anchor="middle" fill="#000" stroke="#000" stroke-width="0.2" >30</text>
<text x="35.00" y="434.00" font-size="17.8" text-anchor="start" fill="#000" stroke="#000" stroke-width="0.2" >m</text>
<path d="M32.3,511.4 L32.5,511.1 L32.8,510.5 L33.2,509.7 L33.7,508.7 L34.3,507.6 L34.9,506.3 L35.7,505.0 L36.5,503.7 L37.3,502.3 L38.3,500.8 L39.3,499.4 L40.3,497.9 L41.4,496.4 L42.5,495.0 L43.7,493.5 L45.0,492.0 L46.3,490.6 L47.6,489.2 L49.0,487.8 L50.4,486.5 L51.9,485.2 L53.4,483.9 L54.9,482.6 L56.5,481.4 L58.2,480.2 L59.8,479.0 L61.6,477.9 L63.3,476.8 L65.1,475.8 L66.9,474.8 L68.8,473.8 L70.7,472.8 L72.6,471.9 L74.6,471.0 L76.6,470.1 L78.7,469.3 L80.7,468.5 L82.9,467.7 L85.0,466.9 L87.2,466.2 L89.4,465.5 L91.6,464.8 L93.9,464.1 L96.2,463.5 L98.6,462.8 L100.9,462.2 L103.3,461.6 L105.8,461.1 L108.2,460.5 L110.7,460.0 L113.3,459.5 L115.8,459.0 L118.4,458.5 L121.0,458.0 L123.7,457.6 L126.3,457.1 L129.0,456.7 L131.8,456.3 L134.5,455.9 L137.3,455.5" fill="none" stroke="#ffa60a" stroke-width="1.45" stroke-dasharray="1.3 1.3"/>
<path d="M32.3,511.4 L32.5,511.1 L32.8,510.4 L33.2,509.5 L33.7,508.5 L34.3,507.3 L34.9,506.0 L35.7,504.6 L36.5,503.2 L37.3,501.7 L38.3,500.1 L39.3,498.6 L40.3,497.0 L41.4,495.5 L42.5,493.9 L43.7,492.4 L45.0,490.9 L46.3,489.4 L47.6,487.9 L49.0,486.5 L50.4,485.1 L51.9,483.7 L53.4,482.4 L54.9,481.1 L56.5,479.8 L58.2,478.6 L59.8,477.4 L61.6,476.2 L63.3,475.1 L65.1,474.0 L66.9,473.0 L68.8,472.0 L70.7,471.0 L72.6,470.0 L74.6,469.1 L76.6,468.2 L78.7,467.4 L80.7,466.5 L82.9,465.7 L85.0,465.0 L87.2,464.2 L89.4,463.5 L91.6,462.8 L93.9,462.1 L96.2,461.5 L98.6,460.8 L100.9,460.2 L103.3,459.6 L105.8,459.1 L108.2,458.5 L110.7,458.0 L113.3,457.5 L115.8,457.0 L118.4,456.5 L121.0,456.0 L123.7,455.5 L126.3,455.1 L129.0,454.7 L131.8,454.2 L134.5,453.8 L137.3,453.5" fill="none" stroke="#7af500" stroke-width="1.45" stroke-dasharray="1.3 1.3"/>
<path d="M32.3,511.4 L32.5,511.0 L32.8,510.3 L33.2,509.4 L33.7,508.3 L34.3,507.0 L34.9,505.6 L35.7,504.1 L36.5,502.6 L37.3,501.0 L38.3,499.4 L39.3,497.7 L40.3,496.1 L41.4,494.4 L42.5,492.8 L43.7,491.2 L45.0,489.6 L46.3,488.0 L47.6,486.5 L49.0,485.0 L50.4,483.5 L51.9,482.1 L53.4,480.7 L54.9,479.4 L56.5,478.1 L58.2,476.8 L59.8,475.6 L61.6,474.4 L63.3,473.3 L65.1,472.2 L66.9,471.1 L68.8,470.0 L70.7,469.0 L72.6,468.1 L74.6,467.1 L76.6,466.2 L78.7,465.4 L80.7,464.5 L82.9,463.7 L85.0,462.9 L87.2,462.2 L89.4,461.5 L91.6,460.8 L93.9,460.1 L96.2,459.4 L98.6,458.8 L100.9,458.2 L103.3,457.6 L105.8,457.0 L108.2,456.4 L110.7,455.9 L113.3,455.4 L115.8,454.9 L118.4,454.4 L121.0,453.9 L123.7,453.5 L126.3,453.0 L129.0,452.6 L131.8,452.2 L134.5,451.8 L137.3,451.4" fill="none" stroke="#ffa60a" stroke-width="1.9" />
<path d="M32.3,511.4 L32.5,511.1 L32.8,510.5 L33.2,509.6 L33.7,508.6 L34.3,507.5 L34.9,506.2 L35.7,504.9 L36.5,503.6 L37.3,502.1 L38.3,500.7 L39.3,499.2 L40.3,497.8 L41.4,496.3 L42.5,494.9 L43.7,493.4 L45.0,492.0 L46.3,490.6 L47.6,489.3 L49.0,487.9 L50.4,486.6 L51.9,485.4 L53.4,484.1 L54.9,482.9 L56.5,481.8 L58.2,480.7 L59.8,479.6 L61.6,478.5 L63.3,477.5 L65.1,476.5 L66.9,475.6 L68.8,474.6 L70.7,473.8 L72.6,472.9 L74.6,472.1 L76.6,471.3 L78.7,470.5 L80.7,469.7 L82.9,469.0 L85.0,468.3 L87.2,467.7 L89.4,467.0 L91.6,466.4 L93.9,465.8 L96.2,465.2 L98.6,464.6 L100.9,464.1 L103.3,463.6 L105.8,463.0 L108.2,462.5 L110.7,462.1 L113.3,461.6 L115.8,461.2 L118.4,460.7 L121.0,460.3 L123.7,459.9 L126.3,459.5 L129.0,459.1 L131.8,458.8 L134.5,458.4 L137.3,458.1" fill="none" stroke="#7af500" stroke-width="1.9" />
<polygon points="137.30,459.96 140.10,454.96 134.50,454.96" fill="#ffa60a"/>
<polygon points="137.30,450.01 140.10,455.01 134.50,455.01" fill="#7af500"/>
<rect x="31.35" y="505.63" width="5.4" height="5.4" fill="#ffa60a"/>
<rect x="47.10" y="480.60" width="5.4" height="5.4" fill="#ffa60a"/>
<rect x="64.60" y="469.63" width="5.4" height="5.4" fill="#ffa60a"/>
<rect x="134.60" y="448.12" width="5.4" height="5.4" fill="#ffa60a"/>
<circle cx="34.05" cy="510.08" r="2.7" fill="#7af500"/>
<circle cx="49.80" cy="486.38" r="2.7" fill="#7af500"/>
<circle cx="67.30" cy="475.84" r="2.7" fill="#7af500"/>
<circle cx="137.30" cy="458.28" r="2.7" fill="#7af500"/>
<path d="M213.50,423.30 L213.50,510.50 L333.80,510.50" fill="none" stroke="#000" stroke-width="1.5"/>
<line x1="209.70" y1="510.50" x2="213.50" y2="510.50" stroke="#000" stroke-width="1.2" />
<text x="209.80" y="513.50" font-size="8.2" text-anchor="end" fill="#000" stroke="#000" stroke-width="0.2" letter-spacing="-0.3">0</text>
<line x1="209.70" y1="488.70" x2="213.50" y2="488.70" stroke="#000" stroke-width="1.2" />
<text x="209.80" y="491.70" font-size="8.2" text-anchor="end" fill="#000" stroke="#000" stroke-width="0.2" letter-spacing="-0.3">5</text>
<line x1="209.70" y1="466.90" x2="213.50" y2="466.90" stroke="#000" stroke-width="1.2" />
<text x="209.80" y="469.90" font-size="8.2" text-anchor="end" fill="#000" stroke="#000" stroke-width="0.2" letter-spacing="-0.3">10</text>
<line x1="209.70" y1="445.10" x2="213.50" y2="445.10" stroke="#000" stroke-width="1.2" />
<text x="209.80" y="448.10" font-size="8.2" text-anchor="end" fill="#000" stroke="#000" stroke-width="0.2" letter-spacing="-0.3">15</text>
<line x1="209.70" y1="423.30" x2="213.50" y2="423.30" stroke="#000" stroke-width="1.2" />
<text x="209.80" y="426.30" font-size="8.2" text-anchor="end" fill="#000" stroke="#000" stroke-width="0.2" letter-spacing="-0.3">20</text>
<line x1="213.50" y1="510.50" x2="213.50" y2="513.70" stroke="#000" stroke-width="1.3" />
<text x="213.50" y="522.20" font-size="8.2" text-anchor="middle" fill="#000" stroke="#000" stroke-width="0.2" >0</text>
<line x1="248.20" y1="510.50" x2="248.20" y2="513.70" stroke="#000" stroke-width="1.3" />
<text x="248.20" y="522.20" font-size="8.2" text-anchor="middle" fill="#000" stroke="#000" stroke-width="0.2" >10</text>
<line x1="282.90" y1="510.50" x2="282.90" y2="513.70" stroke="#000" stroke-width="1.3" />
<text x="282.90" y="522.20" font-size="8.2" text-anchor="middle" fill="#000" stroke="#000" stroke-width="0.2" >20</text>
<line x1="317.60" y1="510.50" x2="317.60" y2="513.70" stroke="#000" stroke-width="1.3" />
<text x="317.60" y="522.20" font-size="8.2" text-anchor="middle" fill="#000" stroke="#000" stroke-width="0.2" >30</text>
<text x="215.35" y="434.00" font-size="17.8" text-anchor="start" fill="#000" stroke="#000" stroke-width="0.2" >n</text>
<path d="M213.5,510.5 L213.6,510.2 L214.0,509.5 L214.4,508.6 L214.9,507.5 L215.5,506.2 L216.1,504.9 L216.8,503.5 L217.6,502.0 L218.5,500.4 L219.4,498.9 L220.4,497.3 L221.4,495.7 L222.5,494.1 L223.6,492.5 L224.8,491.0 L226.1,489.4 L227.3,487.9 L228.7,486.5 L230.0,485.0 L231.4,483.6 L232.9,482.2 L234.4,480.9 L235.9,479.6 L237.5,478.3 L239.2,477.1 L240.8,475.9 L242.5,474.8 L244.3,473.7 L246.0,472.6 L247.8,471.6 L249.7,470.6 L251.6,469.6 L253.5,468.7 L255.5,467.8 L257.4,466.9 L259.5,466.1 L261.5,465.3 L263.6,464.5 L265.8,463.7 L267.9,463.0 L270.1,462.3 L272.3,461.6 L274.6,460.9 L276.9,460.3 L279.2,459.7 L281.5,459.1 L283.9,458.5 L286.3,458.0 L288.8,457.4 L291.3,456.9 L293.8,456.4 L296.3,455.9 L298.9,455.5 L301.5,455.0 L304.1,454.6 L306.7,454.1 L309.4,453.7 L312.1,453.3 L314.8,452.9 L317.6,452.6" fill="none" stroke="#ffa60a" stroke-width="1.45" stroke-dasharray="1.3 1.3"/>
<path d="M213.5,510.5 L213.6,510.2 L214.0,509.6 L214.4,508.9 L214.9,507.9 L215.5,506.9 L216.1,505.7 L216.8,504.5 L217.6,503.2 L218.5,501.9 L219.4,500.5 L220.4,499.2 L221.4,497.8 L222.5,496.3 L223.6,494.9 L224.8,493.5 L226.1,492.1 L227.3,490.8 L228.7,489.4 L230.0,488.1 L231.4,486.8 L232.9,485.5 L234.4,484.3 L235.9,483.1 L237.5,481.9 L239.2,480.7 L240.8,479.6 L242.5,478.5 L244.3,477.4 L246.0,476.4 L247.8,475.4 L249.7,474.4 L251.6,473.5 L253.5,472.6 L255.5,471.7 L257.4,470.8 L259.5,470.0 L261.5,469.2 L263.6,468.4 L265.8,467.7 L267.9,466.9 L270.1,466.2 L272.3,465.5 L274.6,464.9 L276.9,464.2 L279.2,463.6 L281.5,463.0 L283.9,462.4 L286.3,461.9 L288.8,461.3 L291.3,460.8 L293.8,460.3 L296.3,459.8 L298.9,459.3 L301.5,458.8 L304.1,458.4 L306.7,457.9 L309.4,457.5 L312.1,457.1 L314.8,456.7 L317.6,456.3" fill="none" stroke="#7af500" stroke-width="1.45" stroke-dasharray="1.3 1.3"/>
<path d="M213.5,510.5 L213.6,510.0 L214.0,509.1 L214.4,507.9 L214.9,506.5 L215.5,504.9 L216.1,503.1 L216.8,501.2 L217.6,499.3 L218.5,497.3 L219.4,495.2 L220.4,493.1 L221.4,491.1 L222.5,489.0 L223.6,487.0 L224.8,485.0 L226.1,483.0 L227.3,481.0 L228.7,479.1 L230.0,477.3 L231.4,475.5 L232.9,473.7 L234.4,472.0 L235.9,470.4 L237.5,468.8 L239.2,467.2 L240.8,465.7 L242.5,464.3 L244.3,462.9 L246.0,461.6 L247.8,460.3 L249.7,459.0 L251.6,457.8 L253.5,456.6 L255.5,455.5 L257.4,454.4 L259.5,453.4 L261.5,452.4 L263.6,451.4 L265.8,450.5 L267.9,449.6 L270.1,448.7 L272.3,447.8 L274.6,447.0 L276.9,446.2 L279.2,445.5 L281.5,444.8 L283.9,444.0 L286.3,443.4 L288.8,442.7 L291.3,442.1 L293.8,441.4 L296.3,440.9 L298.9,440.3 L301.5,439.7 L304.1,439.2 L306.7,438.7 L309.4,438.1 L312.1,437.7 L314.8,437.2 L317.6,436.7" fill="none" stroke="#ffa60a" stroke-width="1.9" />
<path d="M213.5,510.5 L213.6,509.9 L214.0,508.8 L214.4,507.3 L214.9,505.6 L215.5,503.7 L216.1,501.6 L216.8,499.6 L217.6,497.5 L218.5,495.4 L219.4,493.3 L220.4,491.3 L221.4,489.3 L222.5,487.4 L223.6,485.6 L224.8,483.8 L226.1,482.1 L227.3,480.5 L228.7,479.0 L230.0,477.5 L231.4,476.1 L232.9,474.8 L234.4,473.6 L235.9,472.4 L237.5,471.3 L239.2,470.2 L240.8,469.2 L242.5,468.2 L244.3,467.3 L246.0,466.4 L247.8,465.6 L249.7,464.8 L251.6,464.1 L253.5,463.4 L255.5,462.7 L257.4,462.0 L259.5,461.4 L261.5,460.9 L263.6,460.3 L265.8,459.8 L267.9,459.3 L270.1,458.8 L272.3,458.3 L274.6,457.9 L276.9,457.4 L279.2,457.0 L281.5,456.6 L283.9,456.3 L286.3,455.9 L288.8,455.6 L291.3,455.2 L293.8,454.9 L296.3,454.6 L298.9,454.3 L301.5,454.1 L304.1,453.8 L306.7,453.5 L309.4,453.3 L312.1,453.0 L314.8,452.8 L317.6,452.6" fill="none" stroke="#7af500" stroke-width="1.9" />
<polygon points="215.24,508.27 218.04,503.27 212.44,503.27" fill="#ffa60a"/>
<polygon points="230.85,481.24 233.65,476.24 228.05,476.24" fill="#ffa60a"/>
<polygon points="248.20,473.39 251.00,468.39 245.40,468.39" fill="#ffa60a"/>
<polygon points="317.60,455.08 320.40,450.08 314.80,450.08" fill="#ffa60a"/>
<polygon points="215.24,503.14 218.04,508.14 212.44,508.14" fill="#7af500"/>
<polygon points="230.85,481.34 233.65,486.34 228.05,486.34" fill="#7af500"/>
<polygon points="248.20,469.13 251.00,474.13 245.40,474.13" fill="#7af500"/>
<polygon points="317.60,453.00 320.40,458.00 314.80,458.00" fill="#7af500"/>
<rect x="212.54" y="505.62" width="5.4" height="5.4" fill="#ffa60a"/>
<rect x="228.15" y="465.51" width="5.4" height="5.4" fill="#ffa60a"/>
<rect x="245.50" y="459.40" width="5.4" height="5.4" fill="#ffa60a"/>
<rect x="314.90" y="434.99" width="5.4" height="5.4" fill="#ffa60a"/>
<circle cx="215.24" cy="501.78" r="2.7" fill="#7af500"/>
<circle cx="230.85" cy="472.57" r="2.7" fill="#7af500"/>
<circle cx="248.20" cy="463.85" r="2.7" fill="#7af500"/>
<circle cx="317.60" cy="452.95" r="2.7" fill="#7af500"/>
<path d="M387.30,424.40 L387.30,510.20 L508.70,510.20" fill="none" stroke="#000" stroke-width="1.5"/>
<line x1="383.50" y1="510.20" x2="387.30" y2="510.20" stroke="#000" stroke-width="1.2" />
<text x="383.60" y="513.20" font-size="8.2" text-anchor="end" fill="#000" stroke="#000" stroke-width="0.2" letter-spacing="-0.3">0</text>
<line x1="383.50" y1="488.75" x2="387.30" y2="488.75" stroke="#000" stroke-width="1.2" />
<text x="383.60" y="491.75" font-size="8.2" text-anchor="end" fill="#000" stroke="#000" stroke-width="0.2" letter-spacing="-0.3">5</text>
<line x1="383.50" y1="467.30" x2="387.30" y2="467.30" stroke="#000" stroke-width="1.2" />
<text x="383.60" y="470.30" font-size="8.2" text-anchor="end" fill="#000" stroke="#000" stroke-width="0.2" letter-spacing="-0.3">10</text>
<line x1="383.50" y1="445.85" x2="387.30" y2="445.85" stroke="#000" stroke-width="1.2" />
<text x="383.60" y="448.85" font-size="8.2" text-anchor="end" fill="#000" stroke="#000" stroke-width="0.2" letter-spacing="-0.3">15</text>
<line x1="383.50" y1="424.40" x2="387.30" y2="424.40" stroke="#000" stroke-width="1.2" />
<text x="383.60" y="427.40" font-size="8.2" text-anchor="end" fill="#000" stroke="#000" stroke-width="0.2" letter-spacing="-0.3">20</text>
<line x1="387.30" y1="510.20" x2="387.30" y2="513.40" stroke="#000" stroke-width="1.3" />
<text x="387.30" y="521.90" font-size="8.2" text-anchor="middle" fill="#000" stroke="#000" stroke-width="0.2" >0</text>
<line x1="422.00" y1="510.20" x2="422.00" y2="513.40" stroke="#000" stroke-width="1.3" />
<text x="422.00" y="521.90" font-size="8.2" text-anchor="middle" fill="#000" stroke="#000" stroke-width="0.2" >10</text>
<line x1="456.70" y1="510.20" x2="456.70" y2="513.40" stroke="#000" stroke-width="1.3" />
<text x="456.70" y="521.90" font-size="8.2" text-anchor="middle" fill="#000" stroke="#000" stroke-width="0.2" >20</text>
<line x1="491.40" y1="510.20" x2="491.40" y2="513.40" stroke="#000" stroke-width="1.3" />
<text x="491.40" y="521.90" font-size="8.2" text-anchor="middle" fill="#000" stroke="#000" stroke-width="0.2" >30</text>
<text x="391.75" y="434.75" font-size="17.8" text-anchor="start" fill="#000" stroke="#000" stroke-width="0.2" >o</text>
<path d="M387.3,510.2 L387.4,509.9 L387.8,509.2 L388.2,508.3 L388.7,507.2 L389.3,506.1 L389.9,504.8 L390.6,503.5 L391.4,502.2 L392.3,500.8 L393.2,499.5 L394.2,498.1 L395.2,496.8 L396.3,495.6 L397.4,494.3 L398.6,493.1 L399.9,491.9 L401.1,490.8 L402.5,489.7 L403.8,488.7 L405.2,487.7 L406.7,486.7 L408.2,485.8 L409.7,485.0 L411.3,484.1 L413.0,483.3 L414.6,482.6 L416.3,481.8 L418.1,481.2 L419.8,480.5 L421.6,479.9 L423.5,479.3 L425.4,478.7 L427.3,478.1 L429.3,477.6 L431.2,477.1 L433.3,476.6 L435.3,476.2 L437.4,475.7 L439.6,475.3 L441.7,474.9 L443.9,474.5 L446.1,474.1 L448.4,473.8 L450.7,473.4 L453.0,473.1 L455.3,472.8 L457.7,472.5 L460.1,472.2 L462.6,471.9 L465.1,471.7 L467.6,471.4 L470.1,471.1 L472.7,470.9 L475.3,470.7 L477.9,470.5 L480.5,470.2 L483.2,470.0 L485.9,469.8 L488.6,469.6 L491.4,469.5" fill="none" stroke="#ffa60a" stroke-width="1.45" stroke-dasharray="1.3 1.3"/>
<path d="M387.3,510.2 L387.4,509.6 L387.8,508.5 L388.2,507.0 L388.7,505.3 L389.3,503.5 L389.9,501.6 L390.6,499.7 L391.4,497.7 L392.3,495.8 L393.2,493.9 L394.2,492.1 L395.2,490.4 L396.3,488.7 L397.4,487.2 L398.6,485.7 L399.9,484.3 L401.1,482.9 L402.5,481.6 L403.8,480.5 L405.2,479.3 L406.7,478.3 L408.2,477.3 L409.7,476.3 L411.3,475.4 L413.0,474.6 L414.6,473.8 L416.3,473.1 L418.1,472.4 L419.8,471.7 L421.6,471.1 L423.5,470.5 L425.4,469.9 L427.3,469.4 L429.3,468.9 L431.2,468.4 L433.3,467.9 L435.3,467.5 L437.4,467.1 L439.6,466.7 L441.7,466.3 L443.9,466.0 L446.1,465.6 L448.4,465.3 L450.7,465.0 L453.0,464.7 L455.3,464.4 L457.7,464.2 L460.1,463.9 L462.6,463.7 L465.1,463.4 L467.6,463.2 L470.1,463.0 L472.7,462.8 L475.3,462.6 L477.9,462.4 L480.5,462.2 L483.2,462.0 L485.9,461.8 L488.6,461.7 L491.4,461.5" fill="none" stroke="#7af500" stroke-width="1.45" stroke-dasharray="1.3 1.3"/>
<path d="M387.3,510.2 L387.4,509.9 L387.8,509.3 L388.2,508.5 L388.7,507.6 L389.3,506.5 L389.9,505.4 L390.6,504.2 L391.4,502.9 L392.3,501.6 L393.2,500.3 L394.2,498.9 L395.2,497.6 L396.3,496.3 L397.4,494.9 L398.6,493.6 L399.9,492.4 L401.1,491.1 L402.5,489.9 L403.8,488.7 L405.2,487.5 L406.7,486.4 L408.2,485.3 L409.7,484.2 L411.3,483.2 L413.0,482.1 L414.6,481.2 L416.3,480.2 L418.1,479.3 L419.8,478.5 L421.6,477.6 L423.5,476.8 L425.4,476.0 L427.3,475.3 L429.3,474.5 L431.2,473.8 L433.3,473.2 L435.3,472.5 L437.4,471.9 L439.6,471.3 L441.7,470.7 L443.9,470.1 L446.1,469.6 L448.4,469.0 L450.7,468.5 L453.0,468.0 L455.3,467.6 L457.7,467.1 L460.1,466.7 L462.6,466.2 L465.1,465.8 L467.6,465.4 L470.1,465.0 L472.7,464.7 L475.3,464.3 L477.9,463.9 L480.5,463.6 L483.2,463.3 L485.9,463.0 L488.6,462.6 L491.4,462.3" fill="none" stroke="#ffa60a" stroke-width="1.9" />
<path d="M387.3,510.2 L387.4,509.9 L387.8,509.2 L388.2,508.4 L388.7,507.3 L389.3,506.2 L389.9,505.0 L390.6,503.6 L391.4,502.3 L392.3,500.9 L393.2,499.5 L394.2,498.1 L395.2,496.7 L396.3,495.3 L397.4,493.9 L398.6,492.5 L399.9,491.2 L401.1,489.9 L402.5,488.7 L403.8,487.5 L405.2,486.3 L406.7,485.1 L408.2,484.0 L409.7,483.0 L411.3,481.9 L413.0,480.9 L414.6,480.0 L416.3,479.1 L418.1,478.2 L419.8,477.3 L421.6,476.5 L423.5,475.7 L425.4,475.0 L427.3,474.2 L429.3,473.5 L431.2,472.9 L433.3,472.2 L435.3,471.6 L437.4,471.0 L439.6,470.4 L441.7,469.9 L443.9,469.3 L446.1,468.8 L448.4,468.3 L450.7,467.8 L453.0,467.4 L455.3,466.9 L457.7,466.5 L460.1,466.1 L462.6,465.7 L465.1,465.3 L467.6,464.9 L470.1,464.6 L472.7,464.2 L475.3,463.9 L477.9,463.6 L480.5,463.3 L483.2,463.0 L485.9,462.7 L488.6,462.4 L491.4,462.1" fill="none" stroke="#7af500" stroke-width="1.9" />
<polygon points="404.65,489.61 407.45,484.61 401.85,484.61" fill="#ffa60a"/>
<polygon points="422.00,484.89 424.80,479.89 419.20,479.89" fill="#ffa60a"/>
<polygon points="491.40,472.44 494.20,467.44 488.60,467.44" fill="#ffa60a"/>
<polygon points="389.04,502.91 391.84,507.91 386.24,507.91" fill="#7af500"/>
<polygon points="404.65,474.17 407.45,479.17 401.85,479.17" fill="#7af500"/>
<polygon points="422.00,471.59 424.80,476.59 419.20,476.59" fill="#7af500"/>
<polygon points="491.40,457.87 494.20,462.87 488.60,462.87" fill="#7af500"/>
<rect x="401.95" y="482.62" width="5.4" height="5.4" fill="#ffa60a"/>
<rect x="419.30" y="476.18" width="5.4" height="5.4" fill="#ffa60a"/>
<rect x="488.70" y="461.17" width="5.4" height="5.4" fill="#ffa60a"/>
<circle cx="389.04" cy="508.06" r="2.7" fill="#7af500"/>
<circle cx="404.65" cy="486.61" r="2.7" fill="#7af500"/>
<circle cx="422.00" cy="477.60" r="2.7" fill="#7af500"/>
<circle cx="491.40" cy="463.01" r="2.7" fill="#7af500"/>
<path d="M558.40,426.50 L558.40,510.50 L680.80,510.50" fill="none" stroke="#000" stroke-width="1.5"/>
<line x1="554.60" y1="510.50" x2="558.40" y2="510.50" stroke="#000" stroke-width="1.2" />
<text x="554.70" y="513.50" font-size="8.2" text-anchor="end" fill="#000" stroke="#000" stroke-width="0.2" letter-spacing="-0.3">0</text>
<line x1="554.60" y1="489.50" x2="558.40" y2="489.50" stroke="#000" stroke-width="1.2" />
<text x="554.70" y="492.50" font-size="8.2" text-anchor="end" fill="#000" stroke="#000" stroke-width="0.2" letter-spacing="-0.3">5</text>
<line x1="554.60" y1="468.50" x2="558.40" y2="468.50" stroke="#000" stroke-width="1.2" />
<text x="554.70" y="471.50" font-size="8.2" text-anchor="end" fill="#000" stroke="#000" stroke-width="0.2" letter-spacing="-0.3">10</text>
<line x1="554.60" y1="447.50" x2="558.40" y2="447.50" stroke="#000" stroke-width="1.2" />
<text x="554.70" y="450.50" font-size="8.2" text-anchor="end" fill="#000" stroke="#000" stroke-width="0.2" letter-spacing="-0.3">15</text>
<line x1="554.60" y1="426.50" x2="558.40" y2="426.50" stroke="#000" stroke-width="1.2" />
<text x="554.70" y="429.50" font-size="8.2" text-anchor="end" fill="#000" stroke="#000" stroke-width="0.2" letter-spacing="-0.3">20</text>
<line x1="558.40" y1="510.50" x2="558.40" y2="513.70" stroke="#000" stroke-width="1.3" />
<text x="558.40" y="522.20" font-size="8.2" text-anchor="middle" fill="#000" stroke="#000" stroke-width="0.2" >0</text>
<line x1="593.40" y1="510.50" x2="593.40" y2="513.70" stroke="#000" stroke-width="1.3" />
<text x="593.40" y="522.20" font-size="8.2" text-anchor="middle" fill="#000" stroke="#000" stroke-width="0.2" >10</text>
<line x1="628.40" y1="510.50" x2="628.40" y2="513.70" stroke="#000" stroke-width="1.3" />
<text x="628.40" y="522.20" font-size="8.2" text-anchor="middle" fill="#000" stroke="#000" stroke-width="0.2" >20</text>
<line x1="663.40" y1="510.50" x2="663.40" y2="513.70" stroke="#000" stroke-width="1.3" />
<text x="663.40" y="522.20" font-size="8.2" text-anchor="middle" fill="#000" stroke="#000" stroke-width="0.2" >30</text>
<text x="562.60" y="433.40" font-size="17.8" text-anchor="start" fill="#000" stroke="#000" stroke-width="0.2" >p</text>
<path d="M558.4,510.5 L558.6,510.4 L558.9,510.2 L559.3,509.9 L559.8,509.6 L560.4,509.2 L561.0,508.7 L561.8,508.2 L562.6,507.7 L563.4,507.1 L564.4,506.5 L565.4,505.9 L566.4,505.2 L567.5,504.5 L568.6,503.8 L569.8,503.0 L571.1,502.2 L572.4,501.4 L573.7,500.6 L575.1,499.8 L576.5,498.9 L578.0,498.1 L579.5,497.2 L581.0,496.3 L582.6,495.4 L584.3,494.5 L585.9,493.5 L587.7,492.6 L589.4,491.6 L591.2,490.7 L593.0,489.7 L594.9,488.7 L596.8,487.7 L598.7,486.7 L600.7,485.8 L602.7,484.8 L604.8,483.8 L606.8,482.8 L609.0,481.8 L611.1,480.8 L613.3,479.8 L615.5,478.7 L617.7,477.7 L620.0,476.7 L622.3,475.7 L624.7,474.7 L627.0,473.7 L629.4,472.7 L631.9,471.7 L634.3,470.7 L636.8,469.8 L639.4,468.8 L641.9,467.8 L644.5,466.8 L647.1,465.8 L649.8,464.9 L652.4,463.9 L655.1,462.9 L657.9,462.0 L660.6,461.0 L663.4,460.1" fill="none" stroke="#ffa60a" stroke-width="1.45" stroke-dasharray="1.3 1.3"/>
<path d="M558.4,510.5 L558.6,510.4 L558.9,510.2 L559.3,509.9 L559.8,509.6 L560.4,509.2 L561.0,508.7 L561.8,508.2 L562.6,507.7 L563.4,507.1 L564.4,506.5 L565.4,505.9 L566.4,505.2 L567.5,504.5 L568.6,503.7 L569.8,502.9 L571.1,502.1 L572.4,501.3 L573.7,500.4 L575.1,499.5 L576.5,498.6 L578.0,497.7 L579.5,496.7 L581.0,495.8 L582.6,494.8 L584.3,493.8 L585.9,492.7 L587.7,491.7 L589.4,490.6 L591.2,489.5 L593.0,488.4 L594.9,487.3 L596.8,486.1 L598.7,485.0 L600.7,483.8 L602.7,482.6 L604.8,481.4 L606.8,480.2 L609.0,479.0 L611.1,477.7 L613.3,476.5 L615.5,475.2 L617.7,474.0 L620.0,472.7 L622.3,471.4 L624.7,470.1 L627.0,468.8 L629.4,467.5 L631.9,466.2 L634.3,464.9 L636.8,463.5 L639.4,462.2 L641.9,460.9 L644.5,459.5 L647.1,458.1 L649.8,456.8 L652.4,455.4 L655.1,454.1 L657.9,452.7 L660.6,451.3 L663.4,449.9" fill="none" stroke="#7af500" stroke-width="1.45" stroke-dasharray="1.3 1.3"/>
<path d="M558.4,510.5 L558.6,510.1 L558.9,509.4 L559.3,508.5 L559.8,507.3 L560.4,506.0 L561.0,504.7 L561.8,503.2 L562.6,501.6 L563.4,500.1 L564.4,498.5 L565.4,496.8 L566.4,495.2 L567.5,493.6 L568.6,492.0 L569.8,490.4 L571.1,488.8 L572.4,487.3 L573.7,485.8 L575.1,484.3 L576.5,482.9 L578.0,481.5 L579.5,480.2 L581.0,478.9 L582.6,477.6 L584.3,476.4 L585.9,475.2 L587.7,474.1 L589.4,473.0 L591.2,471.9 L593.0,470.9 L594.9,469.9 L596.8,469.0 L598.7,468.0 L600.7,467.2 L602.7,466.3 L604.8,465.5 L606.8,464.7 L609.0,463.9 L611.1,463.2 L613.3,462.5 L615.5,461.8 L617.7,461.1 L620.0,460.5 L622.3,459.9 L624.7,459.3 L627.0,458.7 L629.4,458.1 L631.9,457.6 L634.3,457.1 L636.8,456.6 L639.4,456.1 L641.9,455.6 L644.5,455.2 L647.1,454.7 L649.8,454.3 L652.4,453.9 L655.1,453.5 L657.9,453.1 L660.6,452.7 L663.4,452.3" fill="none" stroke="#ffa60a" stroke-width="1.9" />
<path d="M558.4,510.5 L558.6,510.2 L558.9,509.6 L559.3,508.9 L559.8,508.0 L560.4,506.9 L561.0,505.8 L561.8,504.6 L562.6,503.3 L563.4,502.0 L564.4,500.7 L565.4,499.4 L566.4,498.0 L567.5,496.6 L568.6,495.3 L569.8,494.0 L571.1,492.6 L572.4,491.3 L573.7,490.1 L575.1,488.8 L576.5,487.6 L578.0,486.4 L579.5,485.2 L581.0,484.1 L582.6,483.0 L584.3,481.9 L585.9,480.9 L587.7,479.9 L589.4,478.9 L591.2,478.0 L593.0,477.1 L594.9,476.2 L596.8,475.3 L598.7,474.5 L600.7,473.7 L602.7,472.9 L604.8,472.2 L606.8,471.5 L609.0,470.8 L611.1,470.1 L613.3,469.5 L615.5,468.8 L617.7,468.2 L620.0,467.6 L622.3,467.1 L624.7,466.5 L627.0,466.0 L629.4,465.5 L631.9,465.0 L634.3,464.5 L636.8,464.0 L639.4,463.6 L641.9,463.1 L644.5,462.7 L647.1,462.3 L649.8,461.9 L652.4,461.5 L655.1,461.2 L657.9,460.8 L660.6,460.4 L663.4,460.1" fill="none" stroke="#7af500" stroke-width="1.9" />
<polygon points="575.90,507.20 578.70,502.20 573.10,502.20" fill="#ffa60a"/>
<polygon points="593.40,489.14 596.20,484.14 590.60,484.14" fill="#ffa60a"/>
<polygon points="663.40,462.68 666.20,457.68 660.60,457.68" fill="#ffa60a"/>
<polygon points="560.15,506.24 562.95,511.24 557.35,511.24" fill="#7af500"/>
<polygon points="575.90,501.20 578.70,506.20 573.10,506.20" fill="#7af500"/>
<polygon points="593.40,484.40 596.20,489.40 590.60,489.40" fill="#7af500"/>
<polygon points="663.40,446.60 666.20,451.60 660.60,451.60" fill="#7af500"/>
<rect x="557.45" y="504.44" width="5.4" height="5.4" fill="#ffa60a"/>
<rect x="573.20" y="480.50" width="5.4" height="5.4" fill="#ffa60a"/>
<rect x="590.70" y="467.90" width="5.4" height="5.4" fill="#ffa60a"/>
<rect x="660.70" y="450.26" width="5.4" height="5.4" fill="#ffa60a"/>
<circle cx="560.15" cy="509.24" r="2.7" fill="#7af500"/>
<circle cx="575.90" cy="488.66" r="2.7" fill="#7af500"/>
<circle cx="593.40" cy="476.48" r="2.7" fill="#7af500"/>
<circle cx="663.40" cy="460.94" r="2.7" fill="#7af500"/>
<rect x="37.4" y="65.0" width="105.50" height="20.8" fill="#999999"/>
<polygon points="40.30,75.70 48.10,75.70 48.10,76.70 40.30,76.70" fill="#111" opacity="0.30"/>
<polygon points="51.60,75.75 61.70,75.75 61.70,76.85 51.60,76.85" fill="#111" opacity="0.65"/>
<polygon points="64.80,75.65 74.80,75.85 74.80,76.95 64.80,76.75" fill="#111" opacity="0.60"/>
<polygon points="77.90,75.80 88.00,75.30 88.00,76.50 77.90,77.00" fill="#111" opacity="0.70"/>
<polygon points="90.60,75.30 101.10,75.30 101.10,76.30 90.60,76.30" fill="#111" opacity="0.22"/>
<polygon points="104.20,75.00 113.80,75.60 113.80,76.60 104.20,76.00" fill="#111" opacity="0.32"/>
<polygon points="116.90,75.20 127.00,75.00 127.00,76.00 116.90,76.20" fill="#111" opacity="0.25"/>
<polygon points="130.00,74.70 140.10,74.70 140.10,76.10 130.00,76.10" fill="#111" opacity="0.88"/>
<line x1="142.90" y1="75.60" x2="152.70" y2="75.60" stroke="#4a4a4a" stroke-width="2.4" />
<text x="154.60" y="77.10" font-size="9.7" text-anchor="start" fill="#000" stroke="#000" stroke-width="0.2" >80</text>
<rect x="212.2" y="65.0" width="104.60" height="20.8" fill="#8a8a8a"/>
<polygon points="214.10,75.10 222.90,75.10 222.90,76.10 214.10,76.10" fill="#111" opacity="0.45"/>
<polygon points="226.80,75.30 236.00,75.70 236.00,76.70 226.80,76.30" fill="#111" opacity="0.40"/>
<polygon points="239.10,75.90 248.70,75.90 248.70,76.90 239.10,76.90" fill="#111" opacity="0.50"/>
<polygon points="252.20,75.80 261.90,75.80 261.90,76.80 252.20,76.80" fill="#111" opacity="0.45"/>
<polygon points="265.50,75.70 275.00,75.70 275.00,76.70 265.50,76.70" fill="#111" opacity="0.45"/>
<polygon points="278.20,75.50 288.00,75.50 288.00,76.50 278.20,76.50" fill="#111" opacity="0.40"/>
<polygon points="291.00,75.20 300.80,75.20 300.80,76.20 291.00,76.20" fill="#111" opacity="0.45"/>
<polygon points="304.00,74.80 313.80,74.80 313.80,75.80 304.00,75.80" fill="#111" opacity="0.50"/>
<line x1="316.80" y1="74.50" x2="326.60" y2="74.50" stroke="#4a4a4a" stroke-width="2.4" />
<text x="328.50" y="76.00" font-size="9.7" text-anchor="start" fill="#000" stroke="#000" stroke-width="0.2" >80</text>
<rect x="389.2" y="65.0" width="105.80" height="20.8" fill="#a8a8a8"/>
<polygon points="390.50,74.10 399.50,74.40 399.50,75.40 390.50,75.10" fill="#111" opacity="0.50"/>
<polygon points="403.00,74.50 413.00,75.80 413.00,76.80 403.00,75.50" fill="#111" opacity="0.42"/>
<polygon points="416.00,75.20 426.00,76.20 426.00,77.40 416.00,76.40" fill="#111" opacity="0.58"/>
<polygon points="429.50,76.05 439.50,76.35 439.50,77.45 429.50,77.15" fill="#111" opacity="0.45"/>
<polygon points="442.00,75.80 452.00,75.80 452.00,76.80 442.00,76.80" fill="#111" opacity="0.18"/>
<polygon points="455.00,76.00 465.00,76.00 465.00,77.00 455.00,77.00" fill="#111" opacity="0.20"/>
<polygon points="468.00,76.00 478.00,76.00 478.00,77.00 468.00,77.00" fill="#111" opacity="0.22"/>
<polygon points="481.00,76.00 491.00,76.00 491.00,77.00 481.00,77.00" fill="#111" opacity="0.22"/>
<line x1="495.00" y1="75.40" x2="504.80" y2="75.40" stroke="#4a4a4a" stroke-width="2.4" />
<text x="506.70" y="76.90" font-size="9.7" text-anchor="start" fill="#000" stroke="#000" stroke-width="0.2" >80</text>
<rect x="574.9" y="65.0" width="78.30" height="20.8" fill="#b3b3b3"/>
<polygon points="576.90,75.10 584.60,75.10 584.60,76.10 576.90,76.10" fill="#111" opacity="0.30"/>
<polygon points="589.40,74.45 597.60,74.45 597.60,75.75 589.40,75.75" fill="#111" opacity="0.60"/>
<polygon points="602.20,74.25 610.60,74.25 610.60,75.55 602.20,75.55" fill="#111" opacity="0.55"/>
<polygon points="615.30,74.10 623.20,74.10 623.20,75.10 615.30,75.10" fill="#111" opacity="0.18"/>
<polygon points="628.00,73.30 636.30,73.30 636.30,74.90 628.00,74.90" fill="#111" opacity="0.80"/>
<polygon points="641.20,72.70 649.80,72.70 649.80,74.50 641.20,74.50" fill="#111" opacity="0.97"/>
<line x1="653.20" y1="74.00" x2="663.00" y2="74.00" stroke="#4a4a4a" stroke-width="2.4" />
<text x="664.90" y="75.50" font-size="9.7" text-anchor="start" fill="#000" stroke="#000" stroke-width="0.2" >80</text>
<line x1="77.90" y1="146.50" x2="154.00" y2="146.50" stroke="#000" stroke-width="1.3" />
<path d="M85.20,148.80 C83.70,146.60 80.15,144.00 80.15,141.00 C80.15,138.40 81.40,137.15 82.70,137.15 C84.00,137.15 84.90,138.40 85.20,139.70 C85.50,138.40 86.40,137.15 87.70,137.15 C89.00,137.15 90.25,138.40 90.25,141.00 C90.25,144.00 86.70,146.60 85.20,148.80 Z" fill="#3cb91b"/>
<path d="M118.10,148.80 C116.60,146.60 113.05,144.00 113.05,141.00 C113.05,138.40 114.30,137.15 115.60,137.15 C116.90,137.15 117.80,138.40 118.10,139.70 C118.40,138.40 119.30,137.15 120.60,137.15 C121.90,137.15 123.15,138.40 123.15,141.00 C123.15,144.00 119.60,146.60 118.10,148.80 Z" fill="#ff9e1b"/>
<text x="95.23" y="158.60" font-size="9.5" text-anchor="start" fill="#000" stroke="#000" stroke-width="0.2"  textLength="48.73" lengthAdjust="spacingAndGlyphs">P = 0.0028</text>
<line x1="235.00" y1="146.60" x2="310.80" y2="146.60" stroke="#ff2020" stroke-width="1.5" stroke-dasharray="3.0 1.2"/>
<path d="M278.70,148.80 C277.20,146.60 273.65,144.00 273.65,141.00 C273.65,138.40 274.90,137.15 276.20,137.15 C277.50,137.15 278.40,138.40 278.70,139.70 C279.00,138.40 279.90,137.15 281.20,137.15 C282.50,137.15 283.75,138.40 283.75,141.00 C283.75,144.00 280.20,146.60 278.70,148.80 Z" fill="#ff9e1b"/>
<text x="277.33" y="158.60" font-size="9.5" text-anchor="start" fill="#000" stroke="#000" stroke-width="0.2"  textLength="49.13" lengthAdjust="spacingAndGlyphs">P = 0.2379</text>
<line x1="413.20" y1="146.40" x2="425.60" y2="146.40" stroke="#000" stroke-width="1.3" />
<line x1="427.00" y1="146.40" x2="492.00" y2="146.40" stroke="#ff2020" stroke-width="1.45" stroke-dasharray="1.3 3.15"/>
<path d="M421.90,148.80 C420.40,146.60 416.85,144.00 416.85,141.00 C416.85,138.40 418.10,137.15 419.40,137.15 C420.70,137.15 421.60,138.40 421.90,139.70 C422.20,138.40 423.10,137.15 424.40,137.15 C425.70,137.15 426.95,138.40 426.95,141.00 C426.95,144.00 423.40,146.60 421.90,148.80 Z" fill="#3cb91b"/>
<path d="M459.90,148.80 C458.40,146.60 454.85,144.00 454.85,141.00 C454.85,138.40 456.10,137.15 457.40,137.15 C458.70,137.15 459.60,138.40 459.90,139.70 C460.20,138.40 461.10,137.15 462.40,137.15 C463.70,137.15 464.95,138.40 464.95,141.00 C464.95,144.00 461.40,146.60 459.90,148.80 Z" fill="#ff9e1b"/>
<text x="446.53" y="157.80" font-size="9.5" text-anchor="start" fill="#000" stroke="#000" stroke-width="0.2"  textLength="49.13" lengthAdjust="spacingAndGlyphs">P = 0.0467</text>
<line x1="594.00" y1="146.40" x2="671.00" y2="146.40" stroke="#ff2020" stroke-width="1.45" stroke-dasharray="1.3 3.15"/>
<path d="M649.70,148.80 C648.20,146.60 644.65,144.00 644.65,141.00 C644.65,138.40 645.90,137.15 647.20,137.15 C648.50,137.15 649.40,138.40 649.70,139.70 C650.00,138.40 650.90,137.15 652.20,137.15 C653.50,137.15 654.75,138.40 654.75,141.00 C654.75,144.00 651.20,146.60 649.70,148.80 Z" fill="#ff9e1b"/>
<text x="621.04" y="156.80" font-size="9.5" text-anchor="start" fill="#000" stroke="#000" stroke-width="0.2"  textLength="49.23" lengthAdjust="spacingAndGlyphs">P = 0.3422</text>
<line x1="73.00" y1="238.00" x2="148.40" y2="238.00" stroke="#444" stroke-width="1.7" />
<polygon points="82.85,228.40 86.95,232.60 85.65,238.90 80.05,238.90 78.75,232.60" fill="#3cb91b"/>
<polygon points="96.00,228.40 100.10,232.60 98.80,238.90 93.20,238.90 91.90,232.60" fill="#3cb91b"/>
<polygon points="111.70,228.40 115.80,232.60 114.50,238.90 108.90,238.90 107.60,232.60" fill="#3cb91b"/>
<polygon points="133.30,228.40 137.40,232.60 136.10,238.90 130.50,238.90 129.20,232.60" fill="#3cb91b"/>
<text x="89.13" y="265.60" font-size="9.5" text-anchor="start" fill="#000" stroke="#000" stroke-width="0.2"  textLength="48.03" lengthAdjust="spacingAndGlyphs">P &lt; 0.0001</text>
<text x="238.84" y="200.60" font-size="9.5" text-anchor="start" fill="#7af500" stroke="#7af500" stroke-width="0.2"  textLength="82.73" lengthAdjust="spacingAndGlyphs">E vs F, P &lt; 0.0003</text>
<line x1="239.00" y1="220.00" x2="315.20" y2="220.00" stroke="#ff2020" stroke-width="1.7" stroke-dasharray="3.3 1.1"/>
<polygon points="268.00,210.50 272.10,214.70 270.80,221.00 265.20,221.00 263.90,214.70" fill="#3cb91b"/>
<text x="271.03" y="264.40" font-size="9.5" text-anchor="start" fill="#000" stroke="#000" stroke-width="0.2"  textLength="43.53" lengthAdjust="spacingAndGlyphs">P = 0.016</text>
<line x1="410.20" y1="220.00" x2="419.40" y2="220.00" stroke="#000" stroke-width="1.4" />
<line x1="419.20" y1="220.00" x2="487.00" y2="220.00" stroke="#ff2020" stroke-width="1.45" stroke-dasharray="1.3 3.15"/>
<polygon points="419.90,210.40 424.00,214.60 422.70,220.90 417.10,220.90 415.80,214.60" fill="#3cb91b"/>
<polygon points="446.70,210.40 450.80,214.60 449.50,220.90 443.90,220.90 442.60,214.60" fill="#3cb91b"/>
<polygon points="470.30,210.40 474.40,214.60 473.10,220.90 467.50,220.90 466.20,214.60" fill="#3cb91b"/>
<text x="439.33" y="264.40" font-size="9.5" text-anchor="start" fill="#000" stroke="#000" stroke-width="0.2"  textLength="48.23" lengthAdjust="spacingAndGlyphs">P &lt; 0.0001</text>
<text x="584.34" y="200.60" font-size="9.5" text-anchor="start" fill="#7af500" stroke="#7af500" stroke-width="0.2"  textLength="84.33" lengthAdjust="spacingAndGlyphs">G vs H, P = 0.6903</text>
<line x1="594.40" y1="220.00" x2="666.40" y2="220.00" stroke="#ff2020" stroke-width="1.45" stroke-dasharray="1.3 3.15"/>
<polygon points="591.20,210.40 595.30,214.60 594.00,220.90 588.40,220.90 587.10,214.60" fill="#3cb91b"/>
<polygon points="627.40,210.40 631.50,214.60 630.20,220.90 624.60,220.90 623.30,214.60" fill="#3cb91b"/>
<polygon points="649.70,210.40 653.80,214.60 652.50,220.90 646.90,220.90 645.60,214.60" fill="#3cb91b"/>
<text x="610.34" y="265.60" font-size="9.5" text-anchor="start" fill="#000" stroke="#000" stroke-width="0.2"  textLength="48.53" lengthAdjust="spacingAndGlyphs">P &lt; 0.0001</text>
<line x1="67.00" y1="384.00" x2="137.70" y2="384.00" stroke="#2a2a2a" stroke-width="1.5" />
<ellipse cx="75.50" cy="381.20" rx="3.5" ry="5.0" transform="rotate(-33 75.50 381.20)" fill="#9c10a6" stroke="#cc4438" stroke-width="0.9"/>
<ellipse cx="91.80" cy="381.20" rx="3.5" ry="5.0" transform="rotate(-33 91.80 381.20)" fill="#9c10a6" stroke="#cc4438" stroke-width="0.9"/>
<ellipse cx="104.20" cy="381.20" rx="3.5" ry="5.0" transform="rotate(-33 104.20 381.20)" fill="#9c10a6" stroke="#cc4438" stroke-width="0.9"/>
<ellipse cx="123.30" cy="381.20" rx="3.5" ry="5.0" transform="rotate(-33 123.30 381.20)" fill="#9c10a6" stroke="#cc4438" stroke-width="0.9"/>
<ellipse cx="133.50" cy="381.20" rx="3.5" ry="5.0" transform="rotate(-33 133.50 381.20)" fill="#9c10a6" stroke="#cc4438" stroke-width="0.9"/>
<ellipse cx="141.90" cy="381.20" rx="3.5" ry="5.0" transform="rotate(-33 141.90 381.20)" fill="#9c10a6" stroke="#cc4438" stroke-width="0.9"/>
<text x="234.34" y="329.00" font-size="9.5" text-anchor="start" fill="#000" stroke="#000" stroke-width="0.2"  textLength="77.03" lengthAdjust="spacingAndGlyphs">I vs J, P &lt; 0.0001</text>
<line x1="237.20" y1="384.10" x2="316.40" y2="384.10" stroke="#ff2020" stroke-width="1.5" stroke-dasharray="3.3 1.2"/>
<ellipse cx="256.80" cy="381.20" rx="3.5" ry="5.0" transform="rotate(-33 256.80 381.20)" fill="#9c10a6" stroke="#cc4438" stroke-width="0.9"/>
<ellipse cx="284.60" cy="381.20" rx="3.5" ry="5.0" transform="rotate(-33 284.60 381.20)" fill="#9c10a6" stroke="#cc4438" stroke-width="0.9"/>
<ellipse cx="312.00" cy="381.20" rx="3.5" ry="5.0" transform="rotate(-33 312.00 381.20)" fill="#9c10a6" stroke="#cc4438" stroke-width="0.9"/>
<line x1="409.00" y1="383.80" x2="420.60" y2="383.80" stroke="#000" stroke-width="1.3" />
<line x1="422.00" y1="383.80" x2="489.00" y2="383.80" stroke="#ff2020" stroke-width="1.45" stroke-dasharray="1.3 3.15"/>
<ellipse cx="423.10" cy="381.20" rx="3.5" ry="5.0" transform="rotate(-33 423.10 381.20)" fill="#9c10a6" stroke="#cc4438" stroke-width="0.9"/>
<ellipse cx="435.00" cy="381.20" rx="3.5" ry="5.0" transform="rotate(-33 435.00 381.20)" fill="#9c10a6" stroke="#cc4438" stroke-width="0.9"/>
<ellipse cx="447.20" cy="381.20" rx="3.5" ry="5.0" transform="rotate(-33 447.20 381.20)" fill="#9c10a6" stroke="#cc4438" stroke-width="0.9"/>
<ellipse cx="458.60" cy="381.20" rx="3.5" ry="5.0" transform="rotate(-33 458.60 381.20)" fill="#9c10a6" stroke="#cc4438" stroke-width="0.9"/>
<ellipse cx="476.00" cy="381.20" rx="3.5" ry="5.0" transform="rotate(-33 476.00 381.20)" fill="#9c10a6" stroke="#cc4438" stroke-width="0.9"/>
<ellipse cx="482.20" cy="381.20" rx="3.5" ry="5.0" transform="rotate(-33 482.20 381.20)" fill="#9c10a6" stroke="#cc4438" stroke-width="0.9"/>
<ellipse cx="488.10" cy="381.20" rx="3.5" ry="5.0" transform="rotate(-33 488.10 381.20)" fill="#9c10a6" stroke="#cc4438" stroke-width="0.9"/>
<text x="578.34" y="329.00" font-size="9.5" text-anchor="start" fill="#000" stroke="#000" stroke-width="0.2"  textLength="81.73" lengthAdjust="spacingAndGlyphs">K vs L, P &lt; 0.0001</text>
<line x1="587.70" y1="383.80" x2="661.40" y2="383.80" stroke="#ff2020" stroke-width="1.45" stroke-dasharray="1.3 3.15"/>
<ellipse cx="604.80" cy="381.20" rx="3.5" ry="5.0" transform="rotate(-33 604.80 381.20)" fill="#9c10a6" stroke="#cc4438" stroke-width="0.9"/>
<ellipse cx="624.90" cy="381.20" rx="3.5" ry="5.0" transform="rotate(-33 624.90 381.20)" fill="#9c10a6" stroke="#cc4438" stroke-width="0.9"/>
<ellipse cx="662.40" cy="381.20" rx="3.5" ry="5.0" transform="rotate(-33 662.40 381.20)" fill="#9c10a6" stroke="#cc4438" stroke-width="0.9"/>
<text x="234.34" y="501.80" font-size="9.5" text-anchor="start" fill="#000" stroke="#000" stroke-width="0.2"  textLength="85.73" lengthAdjust="spacingAndGlyphs">M vs N, P = 0.0076</text>
<text x="585.54" y="502.30" font-size="9.5" text-anchor="start" fill="#000" stroke="#000" stroke-width="0.2"  textLength="85.13" lengthAdjust="spacingAndGlyphs">O vs P, P = 0.8170</text>
<text x="66.55" y="535.80" font-size="7.9" text-anchor="start" fill="#000" stroke="#000" stroke-width="0.2"  textLength="54.91" lengthAdjust="spacingAndGlyphs">Incubation (min)</text>
<text x="246.35" y="534.50" font-size="7.9" text-anchor="start" fill="#000" stroke="#000" stroke-width="0.2"  textLength="55.01" lengthAdjust="spacingAndGlyphs">Incubation (min)</text>
<text x="420.05" y="534.00" font-size="7.9" text-anchor="start" fill="#000" stroke="#000" stroke-width="0.2"  textLength="55.71" lengthAdjust="spacingAndGlyphs">Incubation (min)</text>
<text x="591.85" y="534.00" font-size="7.9" text-anchor="start" fill="#000" stroke="#000" stroke-width="0.2"  textLength="55.21" lengthAdjust="spacingAndGlyphs">Incubation (min)</text>
<text transform="translate(7.80,113.60) rotate(-90)" font-size="10.2" text-anchor="middle" textLength="28.22" lengthAdjust="spacingAndGlyphs" stroke="#000" stroke-width="0.2">ORC3</text>
<text transform="translate(17.70,120.10) rotate(-90)" font-size="7.3" text-anchor="middle" textLength="28.68" lengthAdjust="spacingAndGlyphs" stroke="#000" stroke-width="0.2">% Input</text>
<text transform="translate(7.50,230.90) rotate(-90)" font-size="10.0" text-anchor="middle" textLength="83.00" lengthAdjust="spacingAndGlyphs" stroke="#000" stroke-width="0.2">EGFP-CPN/ NLSR</text>
<text transform="translate(21.90,233.40) rotate(-90)" font-size="7.3" text-anchor="middle" textLength="27.68" lengthAdjust="spacingAndGlyphs" stroke="#000" stroke-width="0.2">% Input</text>
<text transform="translate(7.70,354.65) rotate(-90)" font-size="10.2" text-anchor="middle" textLength="44.32" lengthAdjust="spacingAndGlyphs" stroke="#000" stroke-width="0.2">XRCC5/6</text>
<text transform="translate(18.60,350.50) rotate(-90)" font-size="7.3" text-anchor="middle" textLength="28.48" lengthAdjust="spacingAndGlyphs" stroke="#000" stroke-width="0.2">% Input</text>
<text transform="translate(7.40,464.55) rotate(-90)" font-size="10.0" text-anchor="middle" textLength="28.70" lengthAdjust="spacingAndGlyphs" stroke="#000" stroke-width="0.2">H2/H3</text>
<text transform="translate(18.60,465.90) rotate(-90)" font-size="7.3" text-anchor="middle" textLength="28.68" lengthAdjust="spacingAndGlyphs" stroke="#000" stroke-width="0.2">% Input</text>
</svg>
</body></html>
